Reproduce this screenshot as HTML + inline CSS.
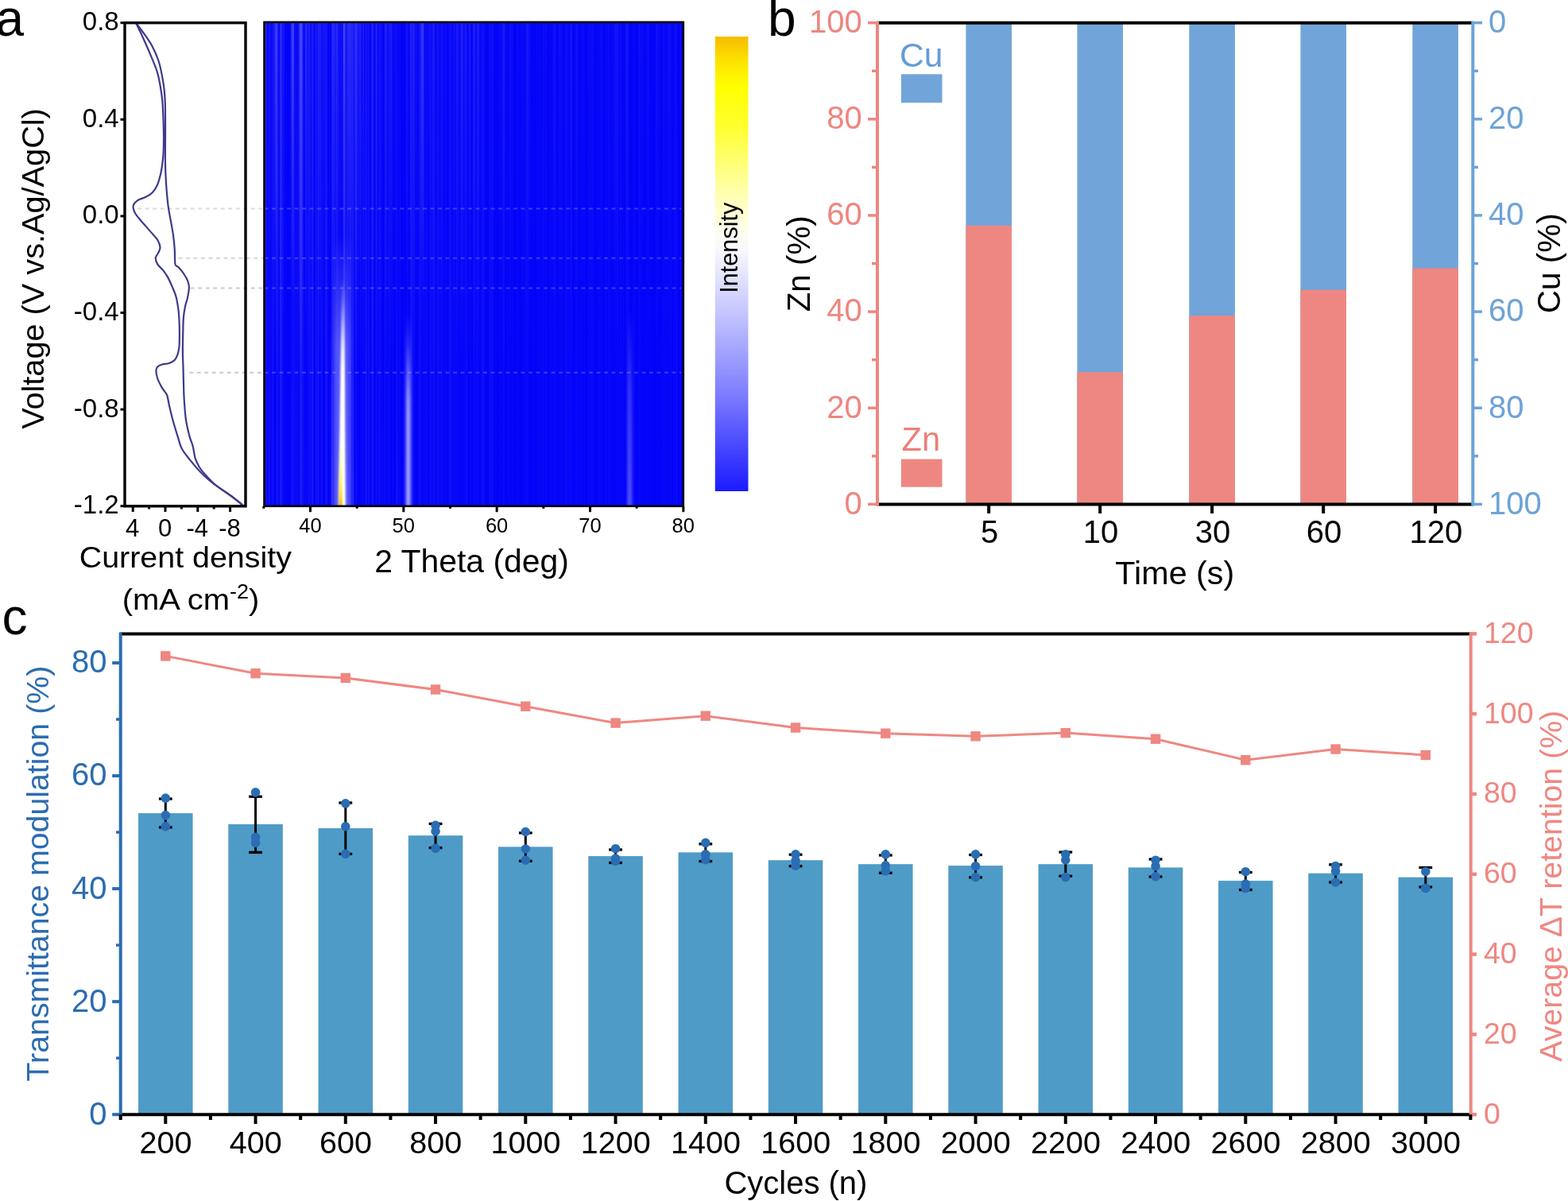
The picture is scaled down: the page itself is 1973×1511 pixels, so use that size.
<!DOCTYPE html>
<html><head><meta charset="utf-8"><title>Figure</title>
<style>html,body{margin:0;padding:0;background:#fff;overflow:hidden}svg{display:block}</style>
</head><body>
<svg width="1973" height="1511" viewBox="0 0 1973 1511" font-family="'Liberation Sans', Arial, Helvetica, sans-serif"><text x="-5.5" y="45.2" font-size="64" fill="#000" text-anchor="start" >a</text>
<line x1="173.20" y1="262.50" x2="332.50" y2="262.50" stroke="#e2d8d4" stroke-width="2" stroke-dasharray="5 4.5"/>
<line x1="224.40" y1="324.80" x2="332.50" y2="324.80" stroke="#d4d5dc" stroke-width="2" stroke-dasharray="5 4.5"/>
<line x1="239.70" y1="362.60" x2="332.50" y2="362.60" stroke="#c5cad3" stroke-width="2" stroke-dasharray="5 4.5"/>
<line x1="238.20" y1="468.70" x2="332.50" y2="468.70" stroke="#c5c9d0" stroke-width="2" stroke-dasharray="5 4.5"/>
<path d="M170.90,28.60 C172.35,31.63 176.28,39.52 179.60,46.80 C182.92,54.08 187.77,65.02 190.80,72.30 C193.83,79.58 195.97,84.43 197.80,90.50 C199.63,96.57 200.72,102.63 201.80,108.70 C202.88,114.77 203.68,120.02 204.30,126.90 C204.92,133.78 205.22,142.48 205.50,150.00 C205.78,157.52 205.98,165.00 206.00,172.00 C206.02,179.00 205.88,186.33 205.60,192.00 C205.32,197.67 204.92,201.33 204.30,206.00 C203.68,210.67 203.02,215.42 201.90,220.00 C200.78,224.58 199.33,229.75 197.60,233.50 C195.87,237.25 193.77,240.17 191.50,242.50 C189.23,244.83 186.50,246.15 184.00,247.50 C181.50,248.85 178.40,249.75 176.50,250.60 C174.60,251.45 173.92,251.60 172.60,252.60 C171.28,253.60 169.43,255.17 168.60,256.60 C167.77,258.03 167.38,259.28 167.60,261.20 C167.82,263.12 168.68,265.83 169.90,268.10 C171.12,270.37 173.22,272.70 174.90,274.80 C176.58,276.90 177.33,277.65 180.00,280.70 C182.67,283.75 187.87,289.58 190.90,293.10 C193.93,296.62 196.43,298.77 198.20,301.80 C199.97,304.83 201.38,308.50 201.50,311.30 C201.62,314.10 199.85,316.42 198.90,318.60 C197.95,320.78 195.92,322.10 195.80,324.40 C195.68,326.70 196.58,329.73 198.20,332.40 C199.82,335.07 203.32,337.62 205.50,340.40 C207.68,343.18 209.48,345.82 211.30,349.10 C213.12,352.38 214.70,356.08 216.40,360.10 C218.10,364.12 220.17,368.35 221.50,373.20 C222.83,378.05 223.72,383.90 224.40,389.20 C225.08,394.50 225.35,399.63 225.60,405.00 C225.85,410.37 225.92,416.25 225.90,421.40 C225.88,426.55 225.87,431.90 225.50,435.90 C225.13,439.90 224.62,442.60 223.70,445.40 C222.78,448.20 221.82,450.77 220.00,452.70 C218.18,454.63 215.47,456.03 212.80,457.00 C210.13,457.97 206.43,457.77 204.00,458.50 C201.57,459.23 199.47,460.07 198.20,461.40 C196.93,462.73 196.40,464.07 196.40,466.50 C196.40,468.93 197.05,472.60 198.20,476.00 C199.35,479.40 201.75,484.07 203.30,486.90 C204.85,489.73 206.32,491.17 207.50,493.00 C208.68,494.83 209.50,495.08 210.40,497.90 C211.30,500.72 211.67,504.60 212.90,509.90 C214.13,515.20 215.98,523.08 217.80,529.70 C219.62,536.32 221.97,543.80 223.80,549.60 C225.63,555.40 226.15,559.53 228.80,564.50 C231.45,569.47 235.73,574.43 239.70,579.40 C243.67,584.37 247.63,589.33 252.60,594.30 C257.57,599.27 263.38,604.40 269.50,609.20 C275.62,614.00 283.35,618.77 289.30,623.10 C295.25,627.43 302.55,633.18 305.20,635.20" fill="none" stroke="#3c3b8a" stroke-width="2.2"/>
<path d="M170.90,28.60 C172.72,31.03 178.40,38.33 181.80,43.20 C185.20,48.07 188.38,52.33 191.30,57.80 C194.22,63.27 197.23,69.95 199.30,76.00 C201.37,82.05 202.48,88.05 203.70,94.10 C204.92,100.15 205.92,106.23 206.60,112.30 C207.28,118.37 207.57,124.22 207.80,130.50 C208.03,136.78 207.97,142.58 208.00,150.00 C208.03,157.42 208.02,166.83 208.00,175.00 C207.98,183.17 207.85,191.95 207.90,199.00 C207.95,206.05 208.00,210.47 208.30,217.30 C208.60,224.13 209.13,232.90 209.70,240.00 C210.27,247.10 210.88,253.83 211.70,259.90 C212.52,265.97 213.58,270.62 214.60,276.40 C215.62,282.18 216.95,288.53 217.80,294.60 C218.65,300.67 219.28,306.65 219.70,312.80 C220.12,318.95 219.92,327.88 220.30,331.50 C220.68,335.12 221.20,333.62 222.00,334.50 C222.80,335.38 223.62,335.22 225.10,336.80 C226.58,338.38 229.08,341.33 230.90,344.00 C232.72,346.67 234.83,349.88 236.00,352.80 C237.17,355.72 237.90,357.87 237.90,361.50 C237.90,365.13 236.80,370.68 236.00,374.60 C235.20,378.52 233.95,380.83 233.10,385.00 C232.25,389.17 231.38,393.53 230.90,399.60 C230.42,405.67 230.37,414.13 230.20,421.40 C230.03,428.67 229.83,435.92 229.90,443.20 C229.97,450.48 230.37,456.60 230.60,465.10 C230.83,473.60 231.03,486.73 231.30,494.20 C231.57,501.67 231.72,503.98 232.20,509.90 C232.68,515.82 233.12,523.08 234.20,529.70 C235.28,536.32 237.28,544.30 238.70,549.60 C240.12,554.90 241.55,557.03 242.70,561.50 C243.85,565.97 244.28,572.10 245.60,576.40 C246.92,580.70 248.77,584.15 250.60,587.30 C252.43,590.45 253.40,591.68 256.60,595.30 C259.80,598.92 264.30,604.40 269.80,609.00 C275.30,613.60 283.70,618.53 289.60,622.90 C295.50,627.27 302.60,633.15 305.20,635.20" fill="none" stroke="#3c3b8a" stroke-width="2.2"/>
<rect x="157" y="28.7" width="152" height="608.0999999999999" fill="none" stroke="#000" stroke-width="3.4"/>
<line x1="151.50" y1="28.70" x2="157.00" y2="28.70" stroke="#000" stroke-width="3" />
<text x="149.7" y="38.2" font-size="33" fill="#000" text-anchor="end" >0.8</text>
<line x1="151.50" y1="150.30" x2="157.00" y2="150.30" stroke="#000" stroke-width="3" />
<text x="149.7" y="159.8" font-size="33" fill="#000" text-anchor="end" >0.4</text>
<line x1="151.50" y1="271.90" x2="157.00" y2="271.90" stroke="#000" stroke-width="3" />
<text x="149.7" y="281.4" font-size="33" fill="#000" text-anchor="end" >0.0</text>
<line x1="151.50" y1="393.50" x2="157.00" y2="393.50" stroke="#000" stroke-width="3" />
<text x="149.7" y="403.0" font-size="33" fill="#000" text-anchor="end" >-0.4</text>
<line x1="151.50" y1="515.10" x2="157.00" y2="515.10" stroke="#000" stroke-width="3" />
<text x="149.7" y="524.6" font-size="33" fill="#000" text-anchor="end" >-0.8</text>
<line x1="151.50" y1="636.70" x2="157.00" y2="636.70" stroke="#000" stroke-width="3" />
<text x="149.7" y="646.2" font-size="33" fill="#000" text-anchor="end" >-1.2</text>
<line x1="167.20" y1="636.80" x2="167.20" y2="644.00" stroke="#000" stroke-width="3" />
<text x="166.7" y="674.7" font-size="31" fill="#000" text-anchor="middle" >4</text>
<line x1="208.00" y1="636.80" x2="208.00" y2="644.00" stroke="#000" stroke-width="3" />
<text x="207.5" y="674.7" font-size="31" fill="#000" text-anchor="middle" >0</text>
<line x1="248.80" y1="636.80" x2="248.80" y2="644.00" stroke="#000" stroke-width="3" />
<text x="248.3" y="674.7" font-size="31" fill="#000" text-anchor="middle" >-4</text>
<line x1="289.60" y1="636.80" x2="289.60" y2="644.00" stroke="#000" stroke-width="3" />
<text x="289.1" y="674.7" font-size="31" fill="#000" text-anchor="middle" >-8</text>
<line x1="187.60" y1="636.80" x2="187.60" y2="640.50" stroke="#000" stroke-width="3" />
<line x1="228.40" y1="636.80" x2="228.40" y2="640.50" stroke="#000" stroke-width="3" />
<line x1="269.20" y1="636.80" x2="269.20" y2="640.50" stroke="#000" stroke-width="3" />
<text transform="translate(55,338) rotate(-90)" font-size="39.7" text-anchor="middle">Voltage (V vs.Ag/AgCl)</text>
<text transform="translate(233.3,713.8) scale(1.065,1)" font-size="37" text-anchor="middle">Current density</text>
<text transform="translate(240,766.7) scale(1.08,1)" font-size="37" text-anchor="middle">(mA cm<tspan dy="-13.5" font-size="25">-2</tspan><tspan dy="13.5">)</tspan></text>
<defs>
<linearGradient id="streakA" x1="0" x2="1" y1="0" y2="0"><stop offset="0.0000" stop-color="#fff" stop-opacity="0.020"/><stop offset="0.0024" stop-color="#fff" stop-opacity="0.031"/><stop offset="0.0048" stop-color="#fff" stop-opacity="0.085"/><stop offset="0.0071" stop-color="#fff" stop-opacity="0.022"/><stop offset="0.0095" stop-color="#fff" stop-opacity="0.026"/><stop offset="0.0119" stop-color="#fff" stop-opacity="0.035"/><stop offset="0.0143" stop-color="#fff" stop-opacity="0.003"/><stop offset="0.0167" stop-color="#fff" stop-opacity="0.026"/><stop offset="0.0190" stop-color="#fff" stop-opacity="0.040"/><stop offset="0.0214" stop-color="#fff" stop-opacity="0.063"/><stop offset="0.0238" stop-color="#fff" stop-opacity="0.001"/><stop offset="0.0262" stop-color="#fff" stop-opacity="0.009"/><stop offset="0.0286" stop-color="#fff" stop-opacity="0.001"/><stop offset="0.0310" stop-color="#fff" stop-opacity="0.066"/><stop offset="0.0333" stop-color="#fff" stop-opacity="0.048"/><stop offset="0.0357" stop-color="#fff" stop-opacity="0.000"/><stop offset="0.0381" stop-color="#fff" stop-opacity="0.096"/><stop offset="0.0405" stop-color="#fff" stop-opacity="0.093"/><stop offset="0.0429" stop-color="#fff" stop-opacity="0.043"/><stop offset="0.0452" stop-color="#fff" stop-opacity="0.038"/><stop offset="0.0476" stop-color="#fff" stop-opacity="0.002"/><stop offset="0.0500" stop-color="#fff" stop-opacity="0.000"/><stop offset="0.0524" stop-color="#fff" stop-opacity="0.028"/><stop offset="0.0548" stop-color="#fff" stop-opacity="0.000"/><stop offset="0.0571" stop-color="#fff" stop-opacity="0.004"/><stop offset="0.0595" stop-color="#fff" stop-opacity="0.006"/><stop offset="0.0619" stop-color="#fff" stop-opacity="0.000"/><stop offset="0.0643" stop-color="#fff" stop-opacity="0.022"/><stop offset="0.0667" stop-color="#fff" stop-opacity="0.019"/><stop offset="0.0690" stop-color="#fff" stop-opacity="0.071"/><stop offset="0.0714" stop-color="#fff" stop-opacity="0.027"/><stop offset="0.0738" stop-color="#fff" stop-opacity="0.041"/><stop offset="0.0762" stop-color="#fff" stop-opacity="0.025"/><stop offset="0.0786" stop-color="#fff" stop-opacity="0.044"/><stop offset="0.0810" stop-color="#fff" stop-opacity="0.021"/><stop offset="0.0833" stop-color="#fff" stop-opacity="0.008"/><stop offset="0.0857" stop-color="#fff" stop-opacity="0.100"/><stop offset="0.0881" stop-color="#fff" stop-opacity="0.099"/><stop offset="0.0905" stop-color="#fff" stop-opacity="0.071"/><stop offset="0.0929" stop-color="#fff" stop-opacity="0.050"/><stop offset="0.0952" stop-color="#fff" stop-opacity="0.010"/><stop offset="0.0976" stop-color="#fff" stop-opacity="0.005"/><stop offset="0.1000" stop-color="#fff" stop-opacity="0.008"/><stop offset="0.1024" stop-color="#fff" stop-opacity="0.000"/><stop offset="0.1048" stop-color="#fff" stop-opacity="0.059"/><stop offset="0.1071" stop-color="#fff" stop-opacity="0.016"/><stop offset="0.1095" stop-color="#fff" stop-opacity="0.072"/><stop offset="0.1119" stop-color="#fff" stop-opacity="0.015"/><stop offset="0.1143" stop-color="#fff" stop-opacity="0.092"/><stop offset="0.1167" stop-color="#fff" stop-opacity="0.072"/><stop offset="0.1190" stop-color="#fff" stop-opacity="0.000"/><stop offset="0.1214" stop-color="#fff" stop-opacity="0.004"/><stop offset="0.1238" stop-color="#fff" stop-opacity="0.083"/><stop offset="0.1262" stop-color="#fff" stop-opacity="0.022"/><stop offset="0.1286" stop-color="#fff" stop-opacity="0.096"/><stop offset="0.1310" stop-color="#fff" stop-opacity="0.016"/><stop offset="0.1333" stop-color="#fff" stop-opacity="0.001"/><stop offset="0.1357" stop-color="#fff" stop-opacity="0.040"/><stop offset="0.1381" stop-color="#fff" stop-opacity="0.061"/><stop offset="0.1405" stop-color="#fff" stop-opacity="0.007"/><stop offset="0.1429" stop-color="#fff" stop-opacity="0.001"/><stop offset="0.1452" stop-color="#fff" stop-opacity="0.011"/><stop offset="0.1476" stop-color="#fff" stop-opacity="0.093"/><stop offset="0.1500" stop-color="#fff" stop-opacity="0.057"/><stop offset="0.1524" stop-color="#fff" stop-opacity="0.001"/><stop offset="0.1548" stop-color="#fff" stop-opacity="0.006"/><stop offset="0.1571" stop-color="#fff" stop-opacity="0.001"/><stop offset="0.1595" stop-color="#fff" stop-opacity="0.000"/><stop offset="0.1619" stop-color="#fff" stop-opacity="0.064"/><stop offset="0.1643" stop-color="#fff" stop-opacity="0.003"/><stop offset="0.1667" stop-color="#fff" stop-opacity="0.031"/><stop offset="0.1690" stop-color="#fff" stop-opacity="0.020"/><stop offset="0.1714" stop-color="#fff" stop-opacity="0.004"/><stop offset="0.1738" stop-color="#fff" stop-opacity="0.054"/><stop offset="0.1762" stop-color="#fff" stop-opacity="0.002"/><stop offset="0.1786" stop-color="#fff" stop-opacity="0.041"/><stop offset="0.1810" stop-color="#fff" stop-opacity="0.001"/><stop offset="0.1833" stop-color="#fff" stop-opacity="0.018"/><stop offset="0.1857" stop-color="#fff" stop-opacity="0.005"/><stop offset="0.1881" stop-color="#fff" stop-opacity="0.007"/><stop offset="0.1905" stop-color="#fff" stop-opacity="0.094"/><stop offset="0.1929" stop-color="#fff" stop-opacity="0.065"/><stop offset="0.1952" stop-color="#fff" stop-opacity="0.009"/><stop offset="0.1976" stop-color="#fff" stop-opacity="0.078"/><stop offset="0.2000" stop-color="#fff" stop-opacity="0.004"/><stop offset="0.2024" stop-color="#fff" stop-opacity="0.016"/><stop offset="0.2048" stop-color="#fff" stop-opacity="0.073"/><stop offset="0.2071" stop-color="#fff" stop-opacity="0.041"/><stop offset="0.2095" stop-color="#fff" stop-opacity="0.001"/><stop offset="0.2119" stop-color="#fff" stop-opacity="0.098"/><stop offset="0.2143" stop-color="#fff" stop-opacity="0.005"/><stop offset="0.2167" stop-color="#fff" stop-opacity="0.007"/><stop offset="0.2190" stop-color="#fff" stop-opacity="0.060"/><stop offset="0.2214" stop-color="#fff" stop-opacity="0.011"/><stop offset="0.2238" stop-color="#fff" stop-opacity="0.009"/><stop offset="0.2262" stop-color="#fff" stop-opacity="0.001"/><stop offset="0.2286" stop-color="#fff" stop-opacity="0.001"/><stop offset="0.2310" stop-color="#fff" stop-opacity="0.034"/><stop offset="0.2333" stop-color="#fff" stop-opacity="0.006"/><stop offset="0.2357" stop-color="#fff" stop-opacity="0.036"/><stop offset="0.2381" stop-color="#fff" stop-opacity="0.014"/><stop offset="0.2405" stop-color="#fff" stop-opacity="0.021"/><stop offset="0.2429" stop-color="#fff" stop-opacity="0.092"/><stop offset="0.2452" stop-color="#fff" stop-opacity="0.023"/><stop offset="0.2476" stop-color="#fff" stop-opacity="0.033"/><stop offset="0.2500" stop-color="#fff" stop-opacity="0.075"/><stop offset="0.2524" stop-color="#fff" stop-opacity="0.003"/><stop offset="0.2548" stop-color="#fff" stop-opacity="0.002"/><stop offset="0.2571" stop-color="#fff" stop-opacity="0.083"/><stop offset="0.2595" stop-color="#fff" stop-opacity="0.067"/><stop offset="0.2619" stop-color="#fff" stop-opacity="0.006"/><stop offset="0.2643" stop-color="#fff" stop-opacity="0.004"/><stop offset="0.2667" stop-color="#fff" stop-opacity="0.033"/><stop offset="0.2690" stop-color="#fff" stop-opacity="0.053"/><stop offset="0.2714" stop-color="#fff" stop-opacity="0.002"/><stop offset="0.2738" stop-color="#fff" stop-opacity="0.054"/><stop offset="0.2762" stop-color="#fff" stop-opacity="0.047"/><stop offset="0.2786" stop-color="#fff" stop-opacity="0.022"/><stop offset="0.2810" stop-color="#fff" stop-opacity="0.011"/><stop offset="0.2833" stop-color="#fff" stop-opacity="0.001"/><stop offset="0.2857" stop-color="#fff" stop-opacity="0.000"/><stop offset="0.2881" stop-color="#fff" stop-opacity="0.056"/><stop offset="0.2905" stop-color="#fff" stop-opacity="0.003"/><stop offset="0.2929" stop-color="#fff" stop-opacity="0.030"/><stop offset="0.2952" stop-color="#fff" stop-opacity="0.004"/><stop offset="0.2976" stop-color="#fff" stop-opacity="0.041"/><stop offset="0.3000" stop-color="#fff" stop-opacity="0.021"/><stop offset="0.3024" stop-color="#fff" stop-opacity="0.005"/><stop offset="0.3048" stop-color="#fff" stop-opacity="0.002"/><stop offset="0.3071" stop-color="#fff" stop-opacity="0.031"/><stop offset="0.3095" stop-color="#fff" stop-opacity="0.000"/><stop offset="0.3119" stop-color="#fff" stop-opacity="0.003"/><stop offset="0.3143" stop-color="#fff" stop-opacity="0.019"/><stop offset="0.3167" stop-color="#fff" stop-opacity="0.044"/><stop offset="0.3190" stop-color="#fff" stop-opacity="0.023"/><stop offset="0.3214" stop-color="#fff" stop-opacity="0.005"/><stop offset="0.3238" stop-color="#fff" stop-opacity="0.050"/><stop offset="0.3262" stop-color="#fff" stop-opacity="0.002"/><stop offset="0.3286" stop-color="#fff" stop-opacity="0.000"/><stop offset="0.3310" stop-color="#fff" stop-opacity="0.004"/><stop offset="0.3333" stop-color="#fff" stop-opacity="0.012"/><stop offset="0.3357" stop-color="#fff" stop-opacity="0.000"/><stop offset="0.3381" stop-color="#fff" stop-opacity="0.002"/><stop offset="0.3405" stop-color="#fff" stop-opacity="0.008"/><stop offset="0.3429" stop-color="#fff" stop-opacity="0.020"/><stop offset="0.3452" stop-color="#fff" stop-opacity="0.001"/><stop offset="0.3476" stop-color="#fff" stop-opacity="0.008"/><stop offset="0.3500" stop-color="#fff" stop-opacity="0.048"/><stop offset="0.3524" stop-color="#fff" stop-opacity="0.058"/><stop offset="0.3548" stop-color="#fff" stop-opacity="0.026"/><stop offset="0.3571" stop-color="#fff" stop-opacity="0.029"/><stop offset="0.3595" stop-color="#fff" stop-opacity="0.020"/><stop offset="0.3619" stop-color="#fff" stop-opacity="0.001"/><stop offset="0.3643" stop-color="#fff" stop-opacity="0.000"/><stop offset="0.3667" stop-color="#fff" stop-opacity="0.000"/><stop offset="0.3690" stop-color="#fff" stop-opacity="0.050"/><stop offset="0.3714" stop-color="#fff" stop-opacity="0.029"/><stop offset="0.3738" stop-color="#fff" stop-opacity="0.056"/><stop offset="0.3762" stop-color="#fff" stop-opacity="0.000"/><stop offset="0.3786" stop-color="#fff" stop-opacity="0.024"/><stop offset="0.3810" stop-color="#fff" stop-opacity="0.014"/><stop offset="0.3833" stop-color="#fff" stop-opacity="0.032"/><stop offset="0.3857" stop-color="#fff" stop-opacity="0.006"/><stop offset="0.3881" stop-color="#fff" stop-opacity="0.060"/><stop offset="0.3905" stop-color="#fff" stop-opacity="0.000"/><stop offset="0.3929" stop-color="#fff" stop-opacity="0.018"/><stop offset="0.3952" stop-color="#fff" stop-opacity="0.033"/><stop offset="0.3976" stop-color="#fff" stop-opacity="0.049"/><stop offset="0.4000" stop-color="#fff" stop-opacity="0.033"/><stop offset="0.4024" stop-color="#fff" stop-opacity="0.030"/><stop offset="0.4048" stop-color="#fff" stop-opacity="0.038"/><stop offset="0.4071" stop-color="#fff" stop-opacity="0.050"/><stop offset="0.4095" stop-color="#fff" stop-opacity="0.007"/><stop offset="0.4119" stop-color="#fff" stop-opacity="0.028"/><stop offset="0.4143" stop-color="#fff" stop-opacity="0.049"/><stop offset="0.4167" stop-color="#fff" stop-opacity="0.046"/><stop offset="0.4190" stop-color="#fff" stop-opacity="0.010"/><stop offset="0.4214" stop-color="#fff" stop-opacity="0.037"/><stop offset="0.4238" stop-color="#fff" stop-opacity="0.045"/><stop offset="0.4262" stop-color="#fff" stop-opacity="0.020"/><stop offset="0.4286" stop-color="#fff" stop-opacity="0.023"/><stop offset="0.4310" stop-color="#fff" stop-opacity="0.009"/><stop offset="0.4333" stop-color="#fff" stop-opacity="0.020"/><stop offset="0.4357" stop-color="#fff" stop-opacity="0.022"/><stop offset="0.4381" stop-color="#fff" stop-opacity="0.000"/><stop offset="0.4405" stop-color="#fff" stop-opacity="0.025"/><stop offset="0.4429" stop-color="#fff" stop-opacity="0.059"/><stop offset="0.4452" stop-color="#fff" stop-opacity="0.046"/><stop offset="0.4476" stop-color="#fff" stop-opacity="0.032"/><stop offset="0.4500" stop-color="#fff" stop-opacity="0.009"/><stop offset="0.4524" stop-color="#fff" stop-opacity="0.032"/><stop offset="0.4548" stop-color="#fff" stop-opacity="0.020"/><stop offset="0.4571" stop-color="#fff" stop-opacity="0.012"/><stop offset="0.4595" stop-color="#fff" stop-opacity="0.042"/><stop offset="0.4619" stop-color="#fff" stop-opacity="0.000"/><stop offset="0.4643" stop-color="#fff" stop-opacity="0.034"/><stop offset="0.4667" stop-color="#fff" stop-opacity="0.000"/><stop offset="0.4690" stop-color="#fff" stop-opacity="0.022"/><stop offset="0.4714" stop-color="#fff" stop-opacity="0.014"/><stop offset="0.4738" stop-color="#fff" stop-opacity="0.003"/><stop offset="0.4762" stop-color="#fff" stop-opacity="0.029"/><stop offset="0.4786" stop-color="#fff" stop-opacity="0.015"/><stop offset="0.4810" stop-color="#fff" stop-opacity="0.023"/><stop offset="0.4833" stop-color="#fff" stop-opacity="0.051"/><stop offset="0.4857" stop-color="#fff" stop-opacity="0.004"/><stop offset="0.4881" stop-color="#fff" stop-opacity="0.000"/><stop offset="0.4905" stop-color="#fff" stop-opacity="0.005"/><stop offset="0.4929" stop-color="#fff" stop-opacity="0.028"/><stop offset="0.4952" stop-color="#fff" stop-opacity="0.002"/><stop offset="0.4976" stop-color="#fff" stop-opacity="0.002"/><stop offset="0.5000" stop-color="#fff" stop-opacity="0.049"/><stop offset="0.5024" stop-color="#fff" stop-opacity="0.026"/><stop offset="0.5048" stop-color="#fff" stop-opacity="0.012"/><stop offset="0.5071" stop-color="#fff" stop-opacity="0.048"/><stop offset="0.5095" stop-color="#fff" stop-opacity="0.006"/><stop offset="0.5119" stop-color="#fff" stop-opacity="0.027"/><stop offset="0.5143" stop-color="#fff" stop-opacity="0.002"/><stop offset="0.5167" stop-color="#fff" stop-opacity="0.011"/><stop offset="0.5190" stop-color="#fff" stop-opacity="0.039"/><stop offset="0.5214" stop-color="#fff" stop-opacity="0.050"/><stop offset="0.5238" stop-color="#fff" stop-opacity="0.046"/><stop offset="0.5262" stop-color="#fff" stop-opacity="0.009"/><stop offset="0.5286" stop-color="#fff" stop-opacity="0.020"/><stop offset="0.5310" stop-color="#fff" stop-opacity="0.006"/><stop offset="0.5333" stop-color="#fff" stop-opacity="0.001"/><stop offset="0.5357" stop-color="#fff" stop-opacity="0.015"/><stop offset="0.5381" stop-color="#fff" stop-opacity="0.042"/><stop offset="0.5405" stop-color="#fff" stop-opacity="0.043"/><stop offset="0.5429" stop-color="#fff" stop-opacity="0.030"/><stop offset="0.5452" stop-color="#fff" stop-opacity="0.054"/><stop offset="0.5476" stop-color="#fff" stop-opacity="0.005"/><stop offset="0.5500" stop-color="#fff" stop-opacity="0.002"/><stop offset="0.5524" stop-color="#fff" stop-opacity="0.012"/><stop offset="0.5548" stop-color="#fff" stop-opacity="0.005"/><stop offset="0.5571" stop-color="#fff" stop-opacity="0.002"/><stop offset="0.5595" stop-color="#fff" stop-opacity="0.006"/><stop offset="0.5619" stop-color="#fff" stop-opacity="0.014"/><stop offset="0.5643" stop-color="#fff" stop-opacity="0.009"/><stop offset="0.5667" stop-color="#fff" stop-opacity="0.004"/><stop offset="0.5690" stop-color="#fff" stop-opacity="0.025"/><stop offset="0.5714" stop-color="#fff" stop-opacity="0.035"/><stop offset="0.5738" stop-color="#fff" stop-opacity="0.007"/><stop offset="0.5762" stop-color="#fff" stop-opacity="0.000"/><stop offset="0.5786" stop-color="#fff" stop-opacity="0.000"/><stop offset="0.5810" stop-color="#fff" stop-opacity="0.027"/><stop offset="0.5833" stop-color="#fff" stop-opacity="0.000"/><stop offset="0.5857" stop-color="#fff" stop-opacity="0.018"/><stop offset="0.5881" stop-color="#fff" stop-opacity="0.012"/><stop offset="0.5905" stop-color="#fff" stop-opacity="0.003"/><stop offset="0.5929" stop-color="#fff" stop-opacity="0.023"/><stop offset="0.5952" stop-color="#fff" stop-opacity="0.000"/><stop offset="0.5976" stop-color="#fff" stop-opacity="0.001"/><stop offset="0.6000" stop-color="#fff" stop-opacity="0.007"/><stop offset="0.6024" stop-color="#fff" stop-opacity="0.000"/><stop offset="0.6048" stop-color="#fff" stop-opacity="0.025"/><stop offset="0.6071" stop-color="#fff" stop-opacity="0.002"/><stop offset="0.6095" stop-color="#fff" stop-opacity="0.001"/><stop offset="0.6119" stop-color="#fff" stop-opacity="0.000"/><stop offset="0.6143" stop-color="#fff" stop-opacity="0.014"/><stop offset="0.6167" stop-color="#fff" stop-opacity="0.007"/><stop offset="0.6190" stop-color="#fff" stop-opacity="0.014"/><stop offset="0.6214" stop-color="#fff" stop-opacity="0.015"/><stop offset="0.6238" stop-color="#fff" stop-opacity="0.023"/><stop offset="0.6262" stop-color="#fff" stop-opacity="0.033"/><stop offset="0.6286" stop-color="#fff" stop-opacity="0.017"/><stop offset="0.6310" stop-color="#fff" stop-opacity="0.001"/><stop offset="0.6333" stop-color="#fff" stop-opacity="0.008"/><stop offset="0.6357" stop-color="#fff" stop-opacity="0.001"/><stop offset="0.6381" stop-color="#fff" stop-opacity="0.000"/><stop offset="0.6405" stop-color="#fff" stop-opacity="0.008"/><stop offset="0.6429" stop-color="#fff" stop-opacity="0.018"/><stop offset="0.6452" stop-color="#fff" stop-opacity="0.001"/><stop offset="0.6476" stop-color="#fff" stop-opacity="0.003"/><stop offset="0.6500" stop-color="#fff" stop-opacity="0.004"/><stop offset="0.6524" stop-color="#fff" stop-opacity="0.018"/><stop offset="0.6548" stop-color="#fff" stop-opacity="0.010"/><stop offset="0.6571" stop-color="#fff" stop-opacity="0.014"/><stop offset="0.6595" stop-color="#fff" stop-opacity="0.021"/><stop offset="0.6619" stop-color="#fff" stop-opacity="0.006"/><stop offset="0.6643" stop-color="#fff" stop-opacity="0.023"/><stop offset="0.6667" stop-color="#fff" stop-opacity="0.030"/><stop offset="0.6690" stop-color="#fff" stop-opacity="0.000"/><stop offset="0.6714" stop-color="#fff" stop-opacity="0.031"/><stop offset="0.6738" stop-color="#fff" stop-opacity="0.019"/><stop offset="0.6762" stop-color="#fff" stop-opacity="0.001"/><stop offset="0.6786" stop-color="#fff" stop-opacity="0.007"/><stop offset="0.6810" stop-color="#fff" stop-opacity="0.014"/><stop offset="0.6833" stop-color="#fff" stop-opacity="0.030"/><stop offset="0.6857" stop-color="#fff" stop-opacity="0.005"/><stop offset="0.6881" stop-color="#fff" stop-opacity="0.012"/><stop offset="0.6905" stop-color="#fff" stop-opacity="0.028"/><stop offset="0.6929" stop-color="#fff" stop-opacity="0.023"/><stop offset="0.6952" stop-color="#fff" stop-opacity="0.032"/><stop offset="0.6976" stop-color="#fff" stop-opacity="0.008"/><stop offset="0.7000" stop-color="#fff" stop-opacity="0.015"/><stop offset="0.7024" stop-color="#fff" stop-opacity="0.002"/><stop offset="0.7048" stop-color="#fff" stop-opacity="0.019"/><stop offset="0.7071" stop-color="#fff" stop-opacity="0.024"/><stop offset="0.7095" stop-color="#fff" stop-opacity="0.015"/><stop offset="0.7119" stop-color="#fff" stop-opacity="0.019"/><stop offset="0.7143" stop-color="#fff" stop-opacity="0.002"/><stop offset="0.7167" stop-color="#fff" stop-opacity="0.029"/><stop offset="0.7190" stop-color="#fff" stop-opacity="0.035"/><stop offset="0.7214" stop-color="#fff" stop-opacity="0.034"/><stop offset="0.7238" stop-color="#fff" stop-opacity="0.010"/><stop offset="0.7262" stop-color="#fff" stop-opacity="0.023"/><stop offset="0.7286" stop-color="#fff" stop-opacity="0.004"/><stop offset="0.7310" stop-color="#fff" stop-opacity="0.030"/><stop offset="0.7333" stop-color="#fff" stop-opacity="0.026"/><stop offset="0.7357" stop-color="#fff" stop-opacity="0.004"/><stop offset="0.7381" stop-color="#fff" stop-opacity="0.000"/><stop offset="0.7405" stop-color="#fff" stop-opacity="0.007"/><stop offset="0.7429" stop-color="#fff" stop-opacity="0.011"/><stop offset="0.7452" stop-color="#fff" stop-opacity="0.021"/><stop offset="0.7476" stop-color="#fff" stop-opacity="0.009"/><stop offset="0.7500" stop-color="#fff" stop-opacity="0.000"/><stop offset="0.7524" stop-color="#fff" stop-opacity="0.024"/><stop offset="0.7548" stop-color="#fff" stop-opacity="0.000"/><stop offset="0.7571" stop-color="#fff" stop-opacity="0.023"/><stop offset="0.7595" stop-color="#fff" stop-opacity="0.001"/><stop offset="0.7619" stop-color="#fff" stop-opacity="0.004"/><stop offset="0.7643" stop-color="#fff" stop-opacity="0.022"/><stop offset="0.7667" stop-color="#fff" stop-opacity="0.001"/><stop offset="0.7690" stop-color="#fff" stop-opacity="0.001"/><stop offset="0.7714" stop-color="#fff" stop-opacity="0.010"/><stop offset="0.7738" stop-color="#fff" stop-opacity="0.019"/><stop offset="0.7762" stop-color="#fff" stop-opacity="0.025"/><stop offset="0.7786" stop-color="#fff" stop-opacity="0.017"/><stop offset="0.7810" stop-color="#fff" stop-opacity="0.032"/><stop offset="0.7833" stop-color="#fff" stop-opacity="0.009"/><stop offset="0.7857" stop-color="#fff" stop-opacity="0.032"/><stop offset="0.7881" stop-color="#fff" stop-opacity="0.000"/><stop offset="0.7905" stop-color="#fff" stop-opacity="0.002"/><stop offset="0.7929" stop-color="#fff" stop-opacity="0.010"/><stop offset="0.7952" stop-color="#fff" stop-opacity="0.003"/><stop offset="0.7976" stop-color="#fff" stop-opacity="0.019"/><stop offset="0.8000" stop-color="#fff" stop-opacity="0.015"/><stop offset="0.8024" stop-color="#fff" stop-opacity="0.010"/><stop offset="0.8048" stop-color="#fff" stop-opacity="0.026"/><stop offset="0.8071" stop-color="#fff" stop-opacity="0.011"/><stop offset="0.8095" stop-color="#fff" stop-opacity="0.003"/><stop offset="0.8119" stop-color="#fff" stop-opacity="0.005"/><stop offset="0.8143" stop-color="#fff" stop-opacity="0.026"/><stop offset="0.8167" stop-color="#fff" stop-opacity="0.029"/><stop offset="0.8190" stop-color="#fff" stop-opacity="0.002"/><stop offset="0.8214" stop-color="#fff" stop-opacity="0.026"/><stop offset="0.8238" stop-color="#fff" stop-opacity="0.034"/><stop offset="0.8262" stop-color="#fff" stop-opacity="0.010"/><stop offset="0.8286" stop-color="#fff" stop-opacity="0.012"/><stop offset="0.8310" stop-color="#fff" stop-opacity="0.001"/><stop offset="0.8333" stop-color="#fff" stop-opacity="0.010"/><stop offset="0.8357" stop-color="#fff" stop-opacity="0.009"/><stop offset="0.8381" stop-color="#fff" stop-opacity="0.013"/><stop offset="0.8405" stop-color="#fff" stop-opacity="0.000"/><stop offset="0.8429" stop-color="#fff" stop-opacity="0.034"/><stop offset="0.8452" stop-color="#fff" stop-opacity="0.010"/><stop offset="0.8476" stop-color="#fff" stop-opacity="0.006"/><stop offset="0.8500" stop-color="#fff" stop-opacity="0.023"/><stop offset="0.8524" stop-color="#fff" stop-opacity="0.011"/><stop offset="0.8548" stop-color="#fff" stop-opacity="0.009"/><stop offset="0.8571" stop-color="#fff" stop-opacity="0.017"/><stop offset="0.8595" stop-color="#fff" stop-opacity="0.000"/><stop offset="0.8619" stop-color="#fff" stop-opacity="0.010"/><stop offset="0.8643" stop-color="#fff" stop-opacity="0.006"/><stop offset="0.8667" stop-color="#fff" stop-opacity="0.033"/><stop offset="0.8690" stop-color="#fff" stop-opacity="0.031"/><stop offset="0.8714" stop-color="#fff" stop-opacity="0.003"/><stop offset="0.8738" stop-color="#fff" stop-opacity="0.008"/><stop offset="0.8762" stop-color="#fff" stop-opacity="0.001"/><stop offset="0.8786" stop-color="#fff" stop-opacity="0.007"/><stop offset="0.8810" stop-color="#fff" stop-opacity="0.024"/><stop offset="0.8833" stop-color="#fff" stop-opacity="0.029"/><stop offset="0.8857" stop-color="#fff" stop-opacity="0.008"/><stop offset="0.8881" stop-color="#fff" stop-opacity="0.004"/><stop offset="0.8905" stop-color="#fff" stop-opacity="0.001"/><stop offset="0.8929" stop-color="#fff" stop-opacity="0.014"/><stop offset="0.8952" stop-color="#fff" stop-opacity="0.031"/><stop offset="0.8976" stop-color="#fff" stop-opacity="0.001"/><stop offset="0.9000" stop-color="#fff" stop-opacity="0.022"/><stop offset="0.9024" stop-color="#fff" stop-opacity="0.000"/><stop offset="0.9048" stop-color="#fff" stop-opacity="0.001"/><stop offset="0.9071" stop-color="#fff" stop-opacity="0.002"/><stop offset="0.9095" stop-color="#fff" stop-opacity="0.017"/><stop offset="0.9119" stop-color="#fff" stop-opacity="0.004"/><stop offset="0.9143" stop-color="#fff" stop-opacity="0.005"/><stop offset="0.9167" stop-color="#fff" stop-opacity="0.014"/><stop offset="0.9190" stop-color="#fff" stop-opacity="0.000"/><stop offset="0.9214" stop-color="#fff" stop-opacity="0.019"/><stop offset="0.9238" stop-color="#fff" stop-opacity="0.001"/><stop offset="0.9262" stop-color="#fff" stop-opacity="0.009"/><stop offset="0.9286" stop-color="#fff" stop-opacity="0.002"/><stop offset="0.9310" stop-color="#fff" stop-opacity="0.001"/><stop offset="0.9333" stop-color="#fff" stop-opacity="0.010"/><stop offset="0.9357" stop-color="#fff" stop-opacity="0.007"/><stop offset="0.9381" stop-color="#fff" stop-opacity="0.005"/><stop offset="0.9405" stop-color="#fff" stop-opacity="0.006"/><stop offset="0.9429" stop-color="#fff" stop-opacity="0.010"/><stop offset="0.9452" stop-color="#fff" stop-opacity="0.001"/><stop offset="0.9476" stop-color="#fff" stop-opacity="0.002"/><stop offset="0.9500" stop-color="#fff" stop-opacity="0.014"/><stop offset="0.9524" stop-color="#fff" stop-opacity="0.015"/><stop offset="0.9548" stop-color="#fff" stop-opacity="0.010"/><stop offset="0.9571" stop-color="#fff" stop-opacity="0.026"/><stop offset="0.9595" stop-color="#fff" stop-opacity="0.013"/><stop offset="0.9619" stop-color="#fff" stop-opacity="0.026"/><stop offset="0.9643" stop-color="#fff" stop-opacity="0.002"/><stop offset="0.9667" stop-color="#fff" stop-opacity="0.020"/><stop offset="0.9690" stop-color="#fff" stop-opacity="0.024"/><stop offset="0.9714" stop-color="#fff" stop-opacity="0.029"/><stop offset="0.9738" stop-color="#fff" stop-opacity="0.004"/><stop offset="0.9762" stop-color="#fff" stop-opacity="0.004"/><stop offset="0.9786" stop-color="#fff" stop-opacity="0.031"/><stop offset="0.9810" stop-color="#fff" stop-opacity="0.002"/><stop offset="0.9833" stop-color="#fff" stop-opacity="0.036"/><stop offset="0.9857" stop-color="#fff" stop-opacity="0.028"/><stop offset="0.9881" stop-color="#fff" stop-opacity="0.001"/><stop offset="0.9905" stop-color="#fff" stop-opacity="0.002"/><stop offset="0.9929" stop-color="#fff" stop-opacity="0.019"/><stop offset="0.9952" stop-color="#fff" stop-opacity="0.002"/><stop offset="0.9976" stop-color="#fff" stop-opacity="0.000"/><stop offset="1.0000" stop-color="#fff" stop-opacity="0.025"/></linearGradient>
<linearGradient id="streakB" x1="0" x2="1" y1="0" y2="0"><stop offset="0.0000" stop-color="#fff" stop-opacity="0.017"/><stop offset="0.0033" stop-color="#fff" stop-opacity="0.111"/><stop offset="0.0067" stop-color="#fff" stop-opacity="0.000"/><stop offset="0.0100" stop-color="#fff" stop-opacity="0.015"/><stop offset="0.0133" stop-color="#fff" stop-opacity="0.072"/><stop offset="0.0167" stop-color="#fff" stop-opacity="0.000"/><stop offset="0.0200" stop-color="#fff" stop-opacity="0.002"/><stop offset="0.0233" stop-color="#fff" stop-opacity="0.071"/><stop offset="0.0267" stop-color="#fff" stop-opacity="0.170"/><stop offset="0.0300" stop-color="#fff" stop-opacity="0.204"/><stop offset="0.0333" stop-color="#fff" stop-opacity="0.000"/><stop offset="0.0367" stop-color="#fff" stop-opacity="0.029"/><stop offset="0.0400" stop-color="#fff" stop-opacity="0.098"/><stop offset="0.0433" stop-color="#fff" stop-opacity="0.029"/><stop offset="0.0467" stop-color="#fff" stop-opacity="0.073"/><stop offset="0.0500" stop-color="#fff" stop-opacity="0.002"/><stop offset="0.0533" stop-color="#fff" stop-opacity="0.000"/><stop offset="0.0567" stop-color="#fff" stop-opacity="0.000"/><stop offset="0.0600" stop-color="#fff" stop-opacity="0.000"/><stop offset="0.0633" stop-color="#fff" stop-opacity="0.038"/><stop offset="0.0667" stop-color="#fff" stop-opacity="0.031"/><stop offset="0.0700" stop-color="#fff" stop-opacity="0.041"/><stop offset="0.0733" stop-color="#fff" stop-opacity="0.001"/><stop offset="0.0767" stop-color="#fff" stop-opacity="0.001"/><stop offset="0.0800" stop-color="#fff" stop-opacity="0.002"/><stop offset="0.0833" stop-color="#fff" stop-opacity="0.133"/><stop offset="0.0867" stop-color="#fff" stop-opacity="0.219"/><stop offset="0.0900" stop-color="#fff" stop-opacity="0.179"/><stop offset="0.0933" stop-color="#fff" stop-opacity="0.000"/><stop offset="0.0967" stop-color="#fff" stop-opacity="0.000"/><stop offset="0.1000" stop-color="#fff" stop-opacity="0.194"/><stop offset="0.1033" stop-color="#fff" stop-opacity="0.022"/><stop offset="0.1067" stop-color="#fff" stop-opacity="0.101"/><stop offset="0.1100" stop-color="#fff" stop-opacity="0.008"/><stop offset="0.1133" stop-color="#fff" stop-opacity="0.023"/><stop offset="0.1167" stop-color="#fff" stop-opacity="0.031"/><stop offset="0.1200" stop-color="#fff" stop-opacity="0.018"/><stop offset="0.1233" stop-color="#fff" stop-opacity="0.049"/><stop offset="0.1267" stop-color="#fff" stop-opacity="0.000"/><stop offset="0.1300" stop-color="#fff" stop-opacity="0.078"/><stop offset="0.1333" stop-color="#fff" stop-opacity="0.135"/><stop offset="0.1367" stop-color="#fff" stop-opacity="0.001"/><stop offset="0.1400" stop-color="#fff" stop-opacity="0.021"/><stop offset="0.1433" stop-color="#fff" stop-opacity="0.091"/><stop offset="0.1467" stop-color="#fff" stop-opacity="0.015"/><stop offset="0.1500" stop-color="#fff" stop-opacity="0.002"/><stop offset="0.1533" stop-color="#fff" stop-opacity="0.001"/><stop offset="0.1567" stop-color="#fff" stop-opacity="0.030"/><stop offset="0.1600" stop-color="#fff" stop-opacity="0.000"/><stop offset="0.1633" stop-color="#fff" stop-opacity="0.160"/><stop offset="0.1667" stop-color="#fff" stop-opacity="0.116"/><stop offset="0.1700" stop-color="#fff" stop-opacity="0.079"/><stop offset="0.1733" stop-color="#fff" stop-opacity="0.143"/><stop offset="0.1767" stop-color="#fff" stop-opacity="0.056"/><stop offset="0.1800" stop-color="#fff" stop-opacity="0.015"/><stop offset="0.1833" stop-color="#fff" stop-opacity="0.049"/><stop offset="0.1867" stop-color="#fff" stop-opacity="0.029"/><stop offset="0.1900" stop-color="#fff" stop-opacity="0.214"/><stop offset="0.1933" stop-color="#fff" stop-opacity="0.117"/><stop offset="0.1967" stop-color="#fff" stop-opacity="0.004"/><stop offset="0.2000" stop-color="#fff" stop-opacity="0.170"/><stop offset="0.2033" stop-color="#fff" stop-opacity="0.093"/><stop offset="0.2067" stop-color="#fff" stop-opacity="0.106"/><stop offset="0.2100" stop-color="#fff" stop-opacity="0.122"/><stop offset="0.2133" stop-color="#fff" stop-opacity="0.015"/><stop offset="0.2167" stop-color="#fff" stop-opacity="0.162"/><stop offset="0.2200" stop-color="#fff" stop-opacity="0.153"/><stop offset="0.2233" stop-color="#fff" stop-opacity="0.075"/><stop offset="0.2267" stop-color="#fff" stop-opacity="0.102"/><stop offset="0.2300" stop-color="#fff" stop-opacity="0.101"/><stop offset="0.2333" stop-color="#fff" stop-opacity="0.015"/><stop offset="0.2367" stop-color="#fff" stop-opacity="0.085"/><stop offset="0.2400" stop-color="#fff" stop-opacity="0.000"/><stop offset="0.2433" stop-color="#fff" stop-opacity="0.009"/><stop offset="0.2467" stop-color="#fff" stop-opacity="0.023"/><stop offset="0.2500" stop-color="#fff" stop-opacity="0.000"/><stop offset="0.2533" stop-color="#fff" stop-opacity="0.010"/><stop offset="0.2567" stop-color="#fff" stop-opacity="0.059"/><stop offset="0.2600" stop-color="#fff" stop-opacity="0.055"/><stop offset="0.2633" stop-color="#fff" stop-opacity="0.003"/><stop offset="0.2667" stop-color="#fff" stop-opacity="0.105"/><stop offset="0.2700" stop-color="#fff" stop-opacity="0.037"/><stop offset="0.2733" stop-color="#fff" stop-opacity="0.005"/><stop offset="0.2767" stop-color="#fff" stop-opacity="0.036"/><stop offset="0.2800" stop-color="#fff" stop-opacity="0.023"/><stop offset="0.2833" stop-color="#fff" stop-opacity="0.019"/><stop offset="0.2867" stop-color="#fff" stop-opacity="0.007"/><stop offset="0.2900" stop-color="#fff" stop-opacity="0.125"/><stop offset="0.2933" stop-color="#fff" stop-opacity="0.033"/><stop offset="0.2967" stop-color="#fff" stop-opacity="0.043"/><stop offset="0.3000" stop-color="#fff" stop-opacity="0.055"/><stop offset="0.3033" stop-color="#fff" stop-opacity="0.118"/><stop offset="0.3067" stop-color="#fff" stop-opacity="0.000"/><stop offset="0.3100" stop-color="#fff" stop-opacity="0.029"/><stop offset="0.3133" stop-color="#fff" stop-opacity="0.050"/><stop offset="0.3167" stop-color="#fff" stop-opacity="0.002"/><stop offset="0.3200" stop-color="#fff" stop-opacity="0.008"/><stop offset="0.3233" stop-color="#fff" stop-opacity="0.000"/><stop offset="0.3267" stop-color="#fff" stop-opacity="0.001"/><stop offset="0.3300" stop-color="#fff" stop-opacity="0.007"/><stop offset="0.3333" stop-color="#fff" stop-opacity="0.000"/><stop offset="0.3367" stop-color="#fff" stop-opacity="0.002"/><stop offset="0.3400" stop-color="#fff" stop-opacity="0.093"/><stop offset="0.3433" stop-color="#fff" stop-opacity="0.021"/><stop offset="0.3467" stop-color="#fff" stop-opacity="0.016"/><stop offset="0.3500" stop-color="#fff" stop-opacity="0.113"/><stop offset="0.3533" stop-color="#fff" stop-opacity="0.023"/><stop offset="0.3567" stop-color="#fff" stop-opacity="0.123"/><stop offset="0.3600" stop-color="#fff" stop-opacity="0.032"/><stop offset="0.3633" stop-color="#fff" stop-opacity="0.066"/><stop offset="0.3667" stop-color="#fff" stop-opacity="0.000"/><stop offset="0.3700" stop-color="#fff" stop-opacity="0.027"/><stop offset="0.3733" stop-color="#fff" stop-opacity="0.055"/><stop offset="0.3767" stop-color="#fff" stop-opacity="0.000"/><stop offset="0.3800" stop-color="#fff" stop-opacity="0.101"/><stop offset="0.3833" stop-color="#fff" stop-opacity="0.001"/><stop offset="0.3867" stop-color="#fff" stop-opacity="0.013"/><stop offset="0.3900" stop-color="#fff" stop-opacity="0.001"/><stop offset="0.3933" stop-color="#fff" stop-opacity="0.015"/><stop offset="0.3967" stop-color="#fff" stop-opacity="0.029"/><stop offset="0.4000" stop-color="#fff" stop-opacity="0.000"/><stop offset="0.4033" stop-color="#fff" stop-opacity="0.106"/><stop offset="0.4067" stop-color="#fff" stop-opacity="0.009"/><stop offset="0.4100" stop-color="#fff" stop-opacity="0.018"/><stop offset="0.4133" stop-color="#fff" stop-opacity="0.027"/><stop offset="0.4167" stop-color="#fff" stop-opacity="0.006"/><stop offset="0.4200" stop-color="#fff" stop-opacity="0.003"/><stop offset="0.4233" stop-color="#fff" stop-opacity="0.035"/><stop offset="0.4267" stop-color="#fff" stop-opacity="0.022"/><stop offset="0.4300" stop-color="#fff" stop-opacity="0.003"/><stop offset="0.4333" stop-color="#fff" stop-opacity="0.046"/><stop offset="0.4367" stop-color="#fff" stop-opacity="0.003"/><stop offset="0.4400" stop-color="#fff" stop-opacity="0.000"/><stop offset="0.4433" stop-color="#fff" stop-opacity="0.002"/><stop offset="0.4467" stop-color="#fff" stop-opacity="0.000"/><stop offset="0.4500" stop-color="#fff" stop-opacity="0.000"/><stop offset="0.4533" stop-color="#fff" stop-opacity="0.054"/><stop offset="0.4567" stop-color="#fff" stop-opacity="0.007"/><stop offset="0.4600" stop-color="#fff" stop-opacity="0.090"/><stop offset="0.4633" stop-color="#fff" stop-opacity="0.052"/><stop offset="0.4667" stop-color="#fff" stop-opacity="0.000"/><stop offset="0.4700" stop-color="#fff" stop-opacity="0.121"/><stop offset="0.4733" stop-color="#fff" stop-opacity="0.105"/><stop offset="0.4767" stop-color="#fff" stop-opacity="0.000"/><stop offset="0.4800" stop-color="#fff" stop-opacity="0.093"/><stop offset="0.4833" stop-color="#fff" stop-opacity="0.010"/><stop offset="0.4867" stop-color="#fff" stop-opacity="0.014"/><stop offset="0.4900" stop-color="#fff" stop-opacity="0.115"/><stop offset="0.4933" stop-color="#fff" stop-opacity="0.002"/><stop offset="0.4967" stop-color="#fff" stop-opacity="0.018"/><stop offset="0.5000" stop-color="#fff" stop-opacity="0.103"/><stop offset="0.5033" stop-color="#fff" stop-opacity="0.047"/><stop offset="0.5067" stop-color="#fff" stop-opacity="0.013"/><stop offset="0.5100" stop-color="#fff" stop-opacity="0.117"/><stop offset="0.5133" stop-color="#fff" stop-opacity="0.041"/><stop offset="0.5167" stop-color="#fff" stop-opacity="0.016"/><stop offset="0.5200" stop-color="#fff" stop-opacity="0.000"/><stop offset="0.5233" stop-color="#fff" stop-opacity="0.018"/><stop offset="0.5267" stop-color="#fff" stop-opacity="0.007"/><stop offset="0.5300" stop-color="#fff" stop-opacity="0.001"/><stop offset="0.5333" stop-color="#fff" stop-opacity="0.000"/><stop offset="0.5367" stop-color="#fff" stop-opacity="0.011"/><stop offset="0.5400" stop-color="#fff" stop-opacity="0.000"/><stop offset="0.5433" stop-color="#fff" stop-opacity="0.007"/><stop offset="0.5467" stop-color="#fff" stop-opacity="0.022"/><stop offset="0.5500" stop-color="#fff" stop-opacity="0.007"/><stop offset="0.5533" stop-color="#fff" stop-opacity="0.001"/><stop offset="0.5567" stop-color="#fff" stop-opacity="0.015"/><stop offset="0.5600" stop-color="#fff" stop-opacity="0.006"/><stop offset="0.5633" stop-color="#fff" stop-opacity="0.035"/><stop offset="0.5667" stop-color="#fff" stop-opacity="0.011"/><stop offset="0.5700" stop-color="#fff" stop-opacity="0.074"/><stop offset="0.5733" stop-color="#fff" stop-opacity="0.065"/><stop offset="0.5767" stop-color="#fff" stop-opacity="0.030"/><stop offset="0.5800" stop-color="#fff" stop-opacity="0.001"/><stop offset="0.5833" stop-color="#fff" stop-opacity="0.000"/><stop offset="0.5867" stop-color="#fff" stop-opacity="0.053"/><stop offset="0.5900" stop-color="#fff" stop-opacity="0.036"/><stop offset="0.5933" stop-color="#fff" stop-opacity="0.018"/><stop offset="0.5967" stop-color="#fff" stop-opacity="0.003"/><stop offset="0.6000" stop-color="#fff" stop-opacity="0.002"/><stop offset="0.6033" stop-color="#fff" stop-opacity="0.024"/><stop offset="0.6067" stop-color="#fff" stop-opacity="0.014"/><stop offset="0.6100" stop-color="#fff" stop-opacity="0.016"/><stop offset="0.6133" stop-color="#fff" stop-opacity="0.019"/><stop offset="0.6167" stop-color="#fff" stop-opacity="0.032"/><stop offset="0.6200" stop-color="#fff" stop-opacity="0.001"/><stop offset="0.6233" stop-color="#fff" stop-opacity="0.001"/><stop offset="0.6267" stop-color="#fff" stop-opacity="0.071"/><stop offset="0.6300" stop-color="#fff" stop-opacity="0.058"/><stop offset="0.6333" stop-color="#fff" stop-opacity="0.051"/><stop offset="0.6367" stop-color="#fff" stop-opacity="0.000"/><stop offset="0.6400" stop-color="#fff" stop-opacity="0.000"/><stop offset="0.6433" stop-color="#fff" stop-opacity="0.001"/><stop offset="0.6467" stop-color="#fff" stop-opacity="0.006"/><stop offset="0.6500" stop-color="#fff" stop-opacity="0.018"/><stop offset="0.6533" stop-color="#fff" stop-opacity="0.000"/><stop offset="0.6567" stop-color="#fff" stop-opacity="0.012"/><stop offset="0.6600" stop-color="#fff" stop-opacity="0.000"/><stop offset="0.6633" stop-color="#fff" stop-opacity="0.000"/><stop offset="0.6667" stop-color="#fff" stop-opacity="0.023"/><stop offset="0.6700" stop-color="#fff" stop-opacity="0.013"/><stop offset="0.6733" stop-color="#fff" stop-opacity="0.019"/><stop offset="0.6767" stop-color="#fff" stop-opacity="0.004"/><stop offset="0.6800" stop-color="#fff" stop-opacity="0.008"/><stop offset="0.6833" stop-color="#fff" stop-opacity="0.001"/><stop offset="0.6867" stop-color="#fff" stop-opacity="0.003"/><stop offset="0.6900" stop-color="#fff" stop-opacity="0.031"/><stop offset="0.6933" stop-color="#fff" stop-opacity="0.044"/><stop offset="0.6967" stop-color="#fff" stop-opacity="0.000"/><stop offset="0.7000" stop-color="#fff" stop-opacity="0.000"/><stop offset="0.7033" stop-color="#fff" stop-opacity="0.040"/><stop offset="0.7067" stop-color="#fff" stop-opacity="0.018"/><stop offset="0.7100" stop-color="#fff" stop-opacity="0.034"/><stop offset="0.7133" stop-color="#fff" stop-opacity="0.001"/><stop offset="0.7167" stop-color="#fff" stop-opacity="0.006"/><stop offset="0.7200" stop-color="#fff" stop-opacity="0.001"/><stop offset="0.7233" stop-color="#fff" stop-opacity="0.040"/><stop offset="0.7267" stop-color="#fff" stop-opacity="0.004"/><stop offset="0.7300" stop-color="#fff" stop-opacity="0.021"/><stop offset="0.7333" stop-color="#fff" stop-opacity="0.073"/><stop offset="0.7367" stop-color="#fff" stop-opacity="0.003"/><stop offset="0.7400" stop-color="#fff" stop-opacity="0.012"/><stop offset="0.7433" stop-color="#fff" stop-opacity="0.031"/><stop offset="0.7467" stop-color="#fff" stop-opacity="0.059"/><stop offset="0.7500" stop-color="#fff" stop-opacity="0.006"/><stop offset="0.7533" stop-color="#fff" stop-opacity="0.004"/><stop offset="0.7567" stop-color="#fff" stop-opacity="0.000"/><stop offset="0.7600" stop-color="#fff" stop-opacity="0.050"/><stop offset="0.7633" stop-color="#fff" stop-opacity="0.000"/><stop offset="0.7667" stop-color="#fff" stop-opacity="0.000"/><stop offset="0.7700" stop-color="#fff" stop-opacity="0.013"/><stop offset="0.7733" stop-color="#fff" stop-opacity="0.009"/><stop offset="0.7767" stop-color="#fff" stop-opacity="0.024"/><stop offset="0.7800" stop-color="#fff" stop-opacity="0.002"/><stop offset="0.7833" stop-color="#fff" stop-opacity="0.035"/><stop offset="0.7867" stop-color="#fff" stop-opacity="0.000"/><stop offset="0.7900" stop-color="#fff" stop-opacity="0.001"/><stop offset="0.7933" stop-color="#fff" stop-opacity="0.022"/><stop offset="0.7967" stop-color="#fff" stop-opacity="0.000"/><stop offset="0.8000" stop-color="#fff" stop-opacity="0.002"/><stop offset="0.8033" stop-color="#fff" stop-opacity="0.029"/><stop offset="0.8067" stop-color="#fff" stop-opacity="0.025"/><stop offset="0.8100" stop-color="#fff" stop-opacity="0.002"/><stop offset="0.8133" stop-color="#fff" stop-opacity="0.000"/><stop offset="0.8167" stop-color="#fff" stop-opacity="0.003"/><stop offset="0.8200" stop-color="#fff" stop-opacity="0.029"/><stop offset="0.8233" stop-color="#fff" stop-opacity="0.004"/><stop offset="0.8267" stop-color="#fff" stop-opacity="0.000"/><stop offset="0.8300" stop-color="#fff" stop-opacity="0.027"/><stop offset="0.8333" stop-color="#fff" stop-opacity="0.014"/><stop offset="0.8367" stop-color="#fff" stop-opacity="0.058"/><stop offset="0.8400" stop-color="#fff" stop-opacity="0.062"/><stop offset="0.8433" stop-color="#fff" stop-opacity="0.057"/><stop offset="0.8467" stop-color="#fff" stop-opacity="0.006"/><stop offset="0.8500" stop-color="#fff" stop-opacity="0.039"/><stop offset="0.8533" stop-color="#fff" stop-opacity="0.002"/><stop offset="0.8567" stop-color="#fff" stop-opacity="0.002"/><stop offset="0.8600" stop-color="#fff" stop-opacity="0.005"/><stop offset="0.8633" stop-color="#fff" stop-opacity="0.061"/><stop offset="0.8667" stop-color="#fff" stop-opacity="0.054"/><stop offset="0.8700" stop-color="#fff" stop-opacity="0.001"/><stop offset="0.8733" stop-color="#fff" stop-opacity="0.004"/><stop offset="0.8767" stop-color="#fff" stop-opacity="0.004"/><stop offset="0.8800" stop-color="#fff" stop-opacity="0.004"/><stop offset="0.8833" stop-color="#fff" stop-opacity="0.005"/><stop offset="0.8867" stop-color="#fff" stop-opacity="0.004"/><stop offset="0.8900" stop-color="#fff" stop-opacity="0.001"/><stop offset="0.8933" stop-color="#fff" stop-opacity="0.013"/><stop offset="0.8967" stop-color="#fff" stop-opacity="0.038"/><stop offset="0.9000" stop-color="#fff" stop-opacity="0.012"/><stop offset="0.9033" stop-color="#fff" stop-opacity="0.044"/><stop offset="0.9067" stop-color="#fff" stop-opacity="0.013"/><stop offset="0.9100" stop-color="#fff" stop-opacity="0.000"/><stop offset="0.9133" stop-color="#fff" stop-opacity="0.033"/><stop offset="0.9167" stop-color="#fff" stop-opacity="0.051"/><stop offset="0.9200" stop-color="#fff" stop-opacity="0.002"/><stop offset="0.9233" stop-color="#fff" stop-opacity="0.000"/><stop offset="0.9267" stop-color="#fff" stop-opacity="0.010"/><stop offset="0.9300" stop-color="#fff" stop-opacity="0.012"/><stop offset="0.9333" stop-color="#fff" stop-opacity="0.014"/><stop offset="0.9367" stop-color="#fff" stop-opacity="0.068"/><stop offset="0.9400" stop-color="#fff" stop-opacity="0.021"/><stop offset="0.9433" stop-color="#fff" stop-opacity="0.039"/><stop offset="0.9467" stop-color="#fff" stop-opacity="0.000"/><stop offset="0.9500" stop-color="#fff" stop-opacity="0.012"/><stop offset="0.9533" stop-color="#fff" stop-opacity="0.037"/><stop offset="0.9567" stop-color="#fff" stop-opacity="0.000"/><stop offset="0.9600" stop-color="#fff" stop-opacity="0.000"/><stop offset="0.9633" stop-color="#fff" stop-opacity="0.030"/><stop offset="0.9667" stop-color="#fff" stop-opacity="0.055"/><stop offset="0.9700" stop-color="#fff" stop-opacity="0.000"/><stop offset="0.9733" stop-color="#fff" stop-opacity="0.019"/><stop offset="0.9767" stop-color="#fff" stop-opacity="0.000"/><stop offset="0.9800" stop-color="#fff" stop-opacity="0.031"/><stop offset="0.9833" stop-color="#fff" stop-opacity="0.021"/><stop offset="0.9867" stop-color="#fff" stop-opacity="0.001"/><stop offset="0.9900" stop-color="#fff" stop-opacity="0.001"/><stop offset="0.9933" stop-color="#fff" stop-opacity="0.034"/><stop offset="0.9967" stop-color="#fff" stop-opacity="0.011"/><stop offset="1.0000" stop-color="#fff" stop-opacity="0.034"/></linearGradient>
<linearGradient id="fadeDown" x1="0" x2="0" y1="0" y2="1"><stop offset="0" stop-color="#fff" stop-opacity="1"/><stop offset="0.45" stop-color="#fff" stop-opacity="0.6"/><stop offset="1" stop-color="#fff" stop-opacity="0"/></linearGradient>
<mask id="mFadeDown" maskContentUnits="objectBoundingBox"><rect x="0" y="0" width="1" height="1" fill="url(#fadeDown)"/></mask>
<linearGradient id="fadeUp" x1="0" x2="0" y1="0" y2="1"><stop offset="0" stop-color="#fff" stop-opacity="0"/><stop offset="0.5" stop-color="#fff" stop-opacity="0.5"/><stop offset="1" stop-color="#fff" stop-opacity="1"/></linearGradient>
<mask id="mFadeUp" maskContentUnits="objectBoundingBox"><rect x="0" y="0" width="1" height="1" fill="url(#fadeUp)"/></mask>
<linearGradient id="p1glow" x1="0" x2="0" y1="0" y2="1"><stop offset="0" stop-color="#fff" stop-opacity="0"/><stop offset="0.2" stop-color="#fff" stop-opacity="0.14"/><stop offset="0.4" stop-color="#fff" stop-opacity="0.3"/><stop offset="1" stop-color="#fff" stop-opacity="0.35"/></linearGradient>
<linearGradient id="p1core" x1="0" x2="0" y1="0" y2="1"><stop offset="0" stop-color="#fff" stop-opacity="0"/><stop offset="0.1" stop-color="#fff" stop-opacity="0.25"/><stop offset="0.2" stop-color="#fff" stop-opacity="0.55"/><stop offset="0.3" stop-color="#fff" stop-opacity="0.85"/><stop offset="0.4" stop-color="#fff" stop-opacity="1"/><stop offset="1" stop-color="#fff" stop-opacity="1"/></linearGradient>
<linearGradient id="p1y" x1="0" x2="0" y1="0" y2="1"><stop offset="0" stop-color="#ffff60" stop-opacity="0"/><stop offset="0.35" stop-color="#ffff40" stop-opacity="0.35"/><stop offset="0.65" stop-color="#fff020" stop-opacity="0.7"/><stop offset="0.88" stop-color="#f8d010" stop-opacity="0.95"/><stop offset="1" stop-color="#eea800" stop-opacity="1"/></linearGradient>
<linearGradient id="p2v" x1="0" x2="0" y1="0" y2="1"><stop offset="0" stop-color="#fff" stop-opacity="0"/><stop offset="0.3" stop-color="#fff" stop-opacity="0.25"/><stop offset="0.45" stop-color="#fff" stop-opacity="0.38"/><stop offset="1" stop-color="#fff" stop-opacity="0.4"/></linearGradient>
<linearGradient id="p3v" x1="0" x2="0" y1="0" y2="1"><stop offset="0" stop-color="#fff" stop-opacity="0"/><stop offset="0.4" stop-color="#fff" stop-opacity="0.18"/><stop offset="1" stop-color="#fff" stop-opacity="0.3"/></linearGradient>
<filter id="bx1" x="-50%" y="0" width="200%" height="100%"><feGaussianBlur stdDeviation="0.9 0"/></filter>
<filter id="bx2" x="-100%" y="0" width="300%" height="100%"><feGaussianBlur stdDeviation="2.5 0"/></filter>
<filter id="bx3" x="-100%" y="0" width="300%" height="100%"><feGaussianBlur stdDeviation="1.6 0"/></filter>
<linearGradient id="cbar" x1="0" x2="0" y1="0" y2="1"><stop offset="0" stop-color="#f5bc00"/><stop offset="0.05" stop-color="#fde000"/><stop offset="0.11" stop-color="#ffff00"/><stop offset="0.2" stop-color="#ffff30"/><stop offset="0.32" stop-color="#ffff9a"/><stop offset="0.42" stop-color="#ffffea"/><stop offset="0.47" stop-color="#f8f8ff"/><stop offset="0.6" stop-color="#c8c8ff"/><stop offset="0.78" stop-color="#8080ff"/><stop offset="1" stop-color="#1a1aff"/></linearGradient>
<clipPath id="hclip"><rect x="332" y="28" width="528" height="608.5"/></clipPath>
</defs>
<g clip-path="url(#hclip)">
<rect x="332.50" y="27.90" width="527.30" height="608.90" fill="#0202f9" />
<rect x="332.50" y="27.90" width="527.30" height="608.90" fill="url(#streakA)" />
<rect x="332.50" y="27.90" width="527.30" height="456.67" fill="url(#streakB)" mask="url(#mFadeDown)"/>
<rect x="366.2" y="28" width="4" height="352" fill="#fff" opacity="0.2" filter="url(#bx1)" mask="url(#mFadeDown)"/>
<rect x="346.0" y="28" width="2" height="302" fill="#fff" opacity="0.1" filter="url(#bx1)" mask="url(#mFadeDown)"/>
<rect x="382.4" y="28" width="2" height="272" fill="#fff" opacity="0.08" filter="url(#bx1)" mask="url(#mFadeDown)"/>
<rect x="529.5" y="28" width="3.5" height="352" fill="#fff" opacity="0.2" filter="url(#bx1)" mask="url(#mFadeDown)"/>
<rect x="538.5" y="28" width="2" height="222" fill="#fff" opacity="0.08" filter="url(#bx1)" mask="url(#mFadeDown)"/>
<rect x="405.9" y="28" width="2" height="222" fill="#fff" opacity="0.06" filter="url(#bx1)" mask="url(#mFadeDown)"/>
<rect x="438.7" y="28" width="2" height="192" fill="#fff" opacity="0.05" filter="url(#bx1)" mask="url(#mFadeDown)"/>
<rect x="337.8" y="330" width="2" height="306" fill="#fff" opacity="0.1" filter="url(#bx1)" mask="url(#mFadeUp)"/>
<rect x="347.2" y="360" width="2" height="276" fill="#fff" opacity="0.08" filter="url(#bx1)" mask="url(#mFadeUp)"/>
<rect x="366.0" y="380" width="2" height="256" fill="#fff" opacity="0.08" filter="url(#bx1)" mask="url(#mFadeUp)"/>
<rect x="383.6" y="400" width="2" height="236" fill="#fff" opacity="0.07" filter="url(#bx1)" mask="url(#mFadeUp)"/>
<rect x="415.9" y="380" width="3" height="256" fill="#fff" opacity="0.1" filter="url(#bx1)" mask="url(#mFadeUp)"/>
<rect x="443.4" y="400" width="2" height="236" fill="#fff" opacity="0.08" filter="url(#bx1)" mask="url(#mFadeUp)"/>
<rect x="481.0" y="420" width="2" height="216" fill="#fff" opacity="0.06" filter="url(#bx1)" mask="url(#mFadeUp)"/>
<rect x="498.6" y="430" width="2" height="206" fill="#fff" opacity="0.07" filter="url(#bx1)" mask="url(#mFadeUp)"/>
<rect x="419.5" y="295" width="22" height="341.8" fill="url(#p1glow)" filter="url(#bx2)"/>
<polygon points="430.0,350 433.4,350 434.8,636.8 426.0,636.8" fill="url(#p1core)" filter="url(#bx1)"/>
<rect x="426.6" y="550" width="4.0" height="86.8" fill="url(#p1y)" filter="url(#bx1)"/>
<rect x="509.7" y="395" width="8" height="241.8" fill="url(#p2v)" filter="url(#bx3)"/>
<rect x="512.2" y="430" width="3" height="206.8" fill="url(#p2v)" filter="url(#bx1)"/>
<rect x="789.4" y="390" width="6" height="246.8" fill="url(#p3v)" filter="url(#bx3)"/>
</g>
<line x1="332.50" y1="262.50" x2="857.00" y2="262.50" stroke="#d8d8ff" stroke-width="2" stroke-dasharray="5 4.5" opacity="0.25"/>
<line x1="332.50" y1="324.80" x2="857.00" y2="324.80" stroke="#d8d8ff" stroke-width="2" stroke-dasharray="5 4.5" opacity="0.25"/>
<line x1="332.50" y1="362.60" x2="857.00" y2="362.60" stroke="#d8d8ff" stroke-width="2" stroke-dasharray="5 4.5" opacity="0.25"/>
<line x1="332.50" y1="468.70" x2="857.00" y2="468.70" stroke="#d8d8ff" stroke-width="2" stroke-dasharray="5 4.5" opacity="0.25"/>
<rect x="332.5" y="27.9" width="527.3" height="608.9" fill="none" stroke="#000" stroke-width="2.6"/>
<line x1="390.45" y1="636.80" x2="390.45" y2="644.20" stroke="#000" stroke-width="3" />
<text x="390.4" y="669.7" font-size="25.5" fill="#000" text-anchor="middle" >40</text>
<line x1="507.80" y1="636.80" x2="507.80" y2="644.20" stroke="#000" stroke-width="3" />
<text x="507.8" y="669.7" font-size="25.5" fill="#000" text-anchor="middle" >50</text>
<line x1="625.15" y1="636.80" x2="625.15" y2="644.20" stroke="#000" stroke-width="3" />
<text x="625.1" y="669.7" font-size="25.5" fill="#000" text-anchor="middle" >60</text>
<line x1="742.50" y1="636.80" x2="742.50" y2="644.20" stroke="#000" stroke-width="3" />
<text x="742.5" y="669.7" font-size="25.5" fill="#000" text-anchor="middle" >70</text>
<line x1="859.85" y1="636.80" x2="859.85" y2="644.20" stroke="#000" stroke-width="3" />
<text x="859.8" y="669.7" font-size="25.5" fill="#000" text-anchor="middle" >80</text>
<line x1="331.77" y1="636.80" x2="331.77" y2="639.80" stroke="#000" stroke-width="3" />
<line x1="449.12" y1="636.80" x2="449.12" y2="639.80" stroke="#000" stroke-width="3" />
<line x1="566.47" y1="636.80" x2="566.47" y2="639.80" stroke="#000" stroke-width="3" />
<line x1="683.83" y1="636.80" x2="683.83" y2="639.80" stroke="#000" stroke-width="3" />
<line x1="801.17" y1="636.80" x2="801.17" y2="639.80" stroke="#000" stroke-width="3" />
<text transform="translate(593.5,719.5) scale(1.022,1)" font-size="40" text-anchor="middle">2 Theta (deg)</text>
<rect x="899.80" y="46.00" width="41.70" height="572.00" fill="url(#cbar)" />
<text transform="translate(927.7,311.7) rotate(-90)" font-size="30.6" text-anchor="middle">Intensity</text>
<text x="966.0" y="44.9" font-size="64" fill="#000" text-anchor="start" >b</text>
<rect x="1215.40" y="28.70" width="57.60" height="605.70" fill="#71a5d9" />
<rect x="1215.40" y="283.80" width="57.60" height="350.60" fill="#ee8781" />
<rect x="1355.40" y="28.70" width="57.60" height="605.70" fill="#71a5d9" />
<rect x="1355.40" y="468.20" width="57.60" height="166.20" fill="#ee8781" />
<rect x="1496.30" y="28.70" width="57.60" height="605.70" fill="#71a5d9" />
<rect x="1496.30" y="397.10" width="57.60" height="237.30" fill="#ee8781" />
<rect x="1636.40" y="28.70" width="57.60" height="605.70" fill="#71a5d9" />
<rect x="1636.40" y="364.60" width="57.60" height="269.80" fill="#ee8781" />
<rect x="1777.30" y="28.70" width="57.60" height="605.70" fill="#71a5d9" />
<rect x="1777.30" y="337.60" width="57.60" height="296.80" fill="#ee8781" />
<text x="1159.2" y="84.2" font-size="42.5" fill="#649cd6" text-anchor="middle" >Cu</text>
<rect x="1133.90" y="93.30" width="51.60" height="36.00" fill="#71a5d9" />
<text x="1158.8" y="567.4" font-size="41.6" fill="#ec7f79" text-anchor="middle" >Zn</text>
<rect x="1133.90" y="577.60" width="51.60" height="35.10" fill="#ee8781" />
<line x1="1104.00" y1="28.70" x2="1853.30" y2="28.70" stroke="#000" stroke-width="4" />
<line x1="1104.00" y1="634.40" x2="1853.30" y2="634.40" stroke="#000" stroke-width="4" />
<line x1="1104.00" y1="26.70" x2="1104.00" y2="636.40" stroke="#ee8680" stroke-width="4" />
<line x1="1853.30" y1="26.70" x2="1853.30" y2="636.40" stroke="#6ea3d7" stroke-width="4" />
<line x1="1092.00" y1="634.40" x2="1104.00" y2="634.40" stroke="#ee8680" stroke-width="3.5" />
<text x="1084.7" y="646.6" font-size="40" fill="#ee8680" text-anchor="end" >0</text>
<line x1="1092.00" y1="513.26" x2="1104.00" y2="513.26" stroke="#ee8680" stroke-width="3.5" />
<text x="1084.7" y="525.5" font-size="40" fill="#ee8680" text-anchor="end" >20</text>
<line x1="1092.00" y1="392.12" x2="1104.00" y2="392.12" stroke="#ee8680" stroke-width="3.5" />
<text x="1084.7" y="404.3" font-size="40" fill="#ee8680" text-anchor="end" >40</text>
<line x1="1092.00" y1="270.98" x2="1104.00" y2="270.98" stroke="#ee8680" stroke-width="3.5" />
<text x="1084.7" y="283.2" font-size="40" fill="#ee8680" text-anchor="end" >60</text>
<line x1="1092.00" y1="149.84" x2="1104.00" y2="149.84" stroke="#ee8680" stroke-width="3.5" />
<text x="1084.7" y="162.0" font-size="40" fill="#ee8680" text-anchor="end" >80</text>
<line x1="1092.00" y1="28.70" x2="1104.00" y2="28.70" stroke="#ee8680" stroke-width="3.5" />
<text x="1084.7" y="40.9" font-size="40" fill="#ee8680" text-anchor="end" >100</text>
<line x1="1097.00" y1="573.83" x2="1104.00" y2="573.83" stroke="#ee8680" stroke-width="3.5" />
<line x1="1097.00" y1="452.69" x2="1104.00" y2="452.69" stroke="#ee8680" stroke-width="3.5" />
<line x1="1097.00" y1="331.55" x2="1104.00" y2="331.55" stroke="#ee8680" stroke-width="3.5" />
<line x1="1097.00" y1="210.41" x2="1104.00" y2="210.41" stroke="#ee8680" stroke-width="3.5" />
<line x1="1097.00" y1="89.27" x2="1104.00" y2="89.27" stroke="#ee8680" stroke-width="3.5" />
<line x1="1853.30" y1="28.70" x2="1865.00" y2="28.70" stroke="#6ea3d7" stroke-width="3.5" />
<text x="1873.0" y="40.9" font-size="40" fill="#6ea3d7" text-anchor="start" >0</text>
<line x1="1853.30" y1="149.84" x2="1865.00" y2="149.84" stroke="#6ea3d7" stroke-width="3.5" />
<text x="1873.0" y="162.0" font-size="40" fill="#6ea3d7" text-anchor="start" >20</text>
<line x1="1853.30" y1="270.98" x2="1865.00" y2="270.98" stroke="#6ea3d7" stroke-width="3.5" />
<text x="1873.0" y="283.2" font-size="40" fill="#6ea3d7" text-anchor="start" >40</text>
<line x1="1853.30" y1="392.12" x2="1865.00" y2="392.12" stroke="#6ea3d7" stroke-width="3.5" />
<text x="1873.0" y="404.3" font-size="40" fill="#6ea3d7" text-anchor="start" >60</text>
<line x1="1853.30" y1="513.26" x2="1865.00" y2="513.26" stroke="#6ea3d7" stroke-width="3.5" />
<text x="1873.0" y="525.5" font-size="40" fill="#6ea3d7" text-anchor="start" >80</text>
<line x1="1853.30" y1="634.40" x2="1865.00" y2="634.40" stroke="#6ea3d7" stroke-width="3.5" />
<text x="1873.0" y="646.6" font-size="40" fill="#6ea3d7" text-anchor="start" >100</text>
<line x1="1853.30" y1="89.27" x2="1860.00" y2="89.27" stroke="#6ea3d7" stroke-width="3.5" />
<line x1="1853.30" y1="210.41" x2="1860.00" y2="210.41" stroke="#6ea3d7" stroke-width="3.5" />
<line x1="1853.30" y1="331.55" x2="1860.00" y2="331.55" stroke="#6ea3d7" stroke-width="3.5" />
<line x1="1853.30" y1="452.69" x2="1860.00" y2="452.69" stroke="#6ea3d7" stroke-width="3.5" />
<line x1="1853.30" y1="573.83" x2="1860.00" y2="573.83" stroke="#6ea3d7" stroke-width="3.5" />
<line x1="1244.20" y1="634.40" x2="1244.20" y2="646.00" stroke="#000" stroke-width="4" />
<text x="1245.0" y="683.3" font-size="40" fill="#000" text-anchor="middle" >5</text>
<line x1="1384.20" y1="634.40" x2="1384.20" y2="646.00" stroke="#000" stroke-width="4" />
<text x="1385.0" y="683.3" font-size="40" fill="#000" text-anchor="middle" >10</text>
<line x1="1525.10" y1="634.40" x2="1525.10" y2="646.00" stroke="#000" stroke-width="4" />
<text x="1525.9" y="683.3" font-size="40" fill="#000" text-anchor="middle" >30</text>
<line x1="1665.20" y1="634.40" x2="1665.20" y2="646.00" stroke="#000" stroke-width="4" />
<text x="1666.0" y="683.3" font-size="40" fill="#000" text-anchor="middle" >60</text>
<line x1="1806.10" y1="634.40" x2="1806.10" y2="646.00" stroke="#000" stroke-width="4" />
<text x="1806.9" y="683.3" font-size="40" fill="#000" text-anchor="middle" >120</text>
<text transform="translate(1478.3,735.2) scale(1.033,1)" font-size="40" text-anchor="middle">Time (s)</text>
<text transform="translate(1018.8,331.8) rotate(-90)" font-size="40.3" text-anchor="middle">Zn (%)</text>
<text transform="translate(1963.3,331.3) rotate(-90)" font-size="40.5" text-anchor="middle">Cu (%)</text>
<text x="2.5" y="798.3" font-size="64" fill="#000" text-anchor="start" >c</text>
<rect x="174.05" y="1023.10" width="68.50" height="379.10" fill="#4f9bc7" />
<rect x="287.30" y="1037.00" width="68.50" height="365.20" fill="#4f9bc7" />
<rect x="400.55" y="1042.00" width="68.50" height="360.20" fill="#4f9bc7" />
<rect x="513.80" y="1051.20" width="68.50" height="351.00" fill="#4f9bc7" />
<rect x="627.05" y="1065.40" width="68.50" height="336.80" fill="#4f9bc7" />
<rect x="740.30" y="1077.10" width="68.50" height="325.10" fill="#4f9bc7" />
<rect x="853.55" y="1072.40" width="68.50" height="329.80" fill="#4f9bc7" />
<rect x="966.80" y="1082.20" width="68.50" height="320.00" fill="#4f9bc7" />
<rect x="1080.05" y="1087.20" width="68.50" height="315.00" fill="#4f9bc7" />
<rect x="1193.30" y="1089.10" width="68.50" height="313.10" fill="#4f9bc7" />
<rect x="1306.55" y="1087.20" width="68.50" height="315.00" fill="#4f9bc7" />
<rect x="1419.80" y="1091.40" width="68.50" height="310.80" fill="#4f9bc7" />
<rect x="1533.05" y="1108.10" width="68.50" height="294.10" fill="#4f9bc7" />
<rect x="1646.30" y="1098.70" width="68.50" height="303.50" fill="#4f9bc7" />
<rect x="1759.55" y="1103.70" width="68.50" height="298.50" fill="#4f9bc7" />
<line x1="208.30" y1="1005.00" x2="208.30" y2="1040.90" stroke="#000" stroke-width="3" />
<line x1="199.90" y1="1005.00" x2="216.70" y2="1005.00" stroke="#000" stroke-width="3.3" />
<line x1="199.90" y1="1040.90" x2="216.70" y2="1040.90" stroke="#000" stroke-width="3.3" />
<circle cx="208.30" cy="1004.10" r="5.8" fill="#2a6db3"/>
<circle cx="208.30" cy="1025.60" r="5.8" fill="#2a6db3"/>
<circle cx="208.30" cy="1039.80" r="5.8" fill="#2a6db3"/>
<line x1="321.55" y1="1002.20" x2="321.55" y2="1072.40" stroke="#000" stroke-width="3" />
<line x1="313.15" y1="1002.20" x2="329.95" y2="1002.20" stroke="#000" stroke-width="3.3" />
<line x1="313.15" y1="1072.40" x2="329.95" y2="1072.40" stroke="#000" stroke-width="3.3" />
<circle cx="321.55" cy="996.90" r="5.8" fill="#2a6db3"/>
<circle cx="321.55" cy="1053.40" r="5.8" fill="#2a6db3"/>
<circle cx="321.55" cy="1060.40" r="5.8" fill="#2a6db3"/>
<line x1="434.80" y1="1010.00" x2="434.80" y2="1074.40" stroke="#000" stroke-width="3" />
<line x1="426.40" y1="1010.00" x2="443.20" y2="1010.00" stroke="#000" stroke-width="3.3" />
<line x1="426.40" y1="1074.40" x2="443.20" y2="1074.40" stroke="#000" stroke-width="3.3" />
<circle cx="434.80" cy="1010.80" r="5.8" fill="#2a6db3"/>
<circle cx="434.80" cy="1039.80" r="5.8" fill="#2a6db3"/>
<circle cx="434.80" cy="1074.40" r="5.8" fill="#2a6db3"/>
<line x1="548.05" y1="1036.40" x2="548.05" y2="1066.60" stroke="#000" stroke-width="3" />
<line x1="539.65" y1="1036.40" x2="556.45" y2="1036.40" stroke="#000" stroke-width="3.3" />
<line x1="539.65" y1="1066.60" x2="556.45" y2="1066.60" stroke="#000" stroke-width="3.3" />
<circle cx="548.05" cy="1038.40" r="5.8" fill="#2a6db3"/>
<circle cx="548.05" cy="1045.90" r="5.8" fill="#2a6db3"/>
<circle cx="548.05" cy="1067.40" r="5.8" fill="#2a6db3"/>
<line x1="661.30" y1="1047.90" x2="661.30" y2="1083.30" stroke="#000" stroke-width="3" />
<line x1="652.90" y1="1047.90" x2="669.70" y2="1047.90" stroke="#000" stroke-width="3.3" />
<line x1="652.90" y1="1083.30" x2="669.70" y2="1083.30" stroke="#000" stroke-width="3.3" />
<circle cx="661.30" cy="1046.50" r="5.8" fill="#2a6db3"/>
<circle cx="661.30" cy="1068.00" r="5.8" fill="#2a6db3"/>
<circle cx="661.30" cy="1082.20" r="5.8" fill="#2a6db3"/>
<line x1="774.55" y1="1069.00" x2="774.55" y2="1085.50" stroke="#000" stroke-width="3" />
<line x1="766.15" y1="1069.00" x2="782.95" y2="1069.00" stroke="#000" stroke-width="3.3" />
<line x1="766.15" y1="1085.50" x2="782.95" y2="1085.50" stroke="#000" stroke-width="3.3" />
<circle cx="774.55" cy="1067.70" r="5.8" fill="#2a6db3"/>
<circle cx="774.55" cy="1080.00" r="5.8" fill="#2a6db3"/>
<circle cx="774.55" cy="1083.50" r="5.8" fill="#2a6db3"/>
<line x1="887.80" y1="1061.80" x2="887.80" y2="1083.60" stroke="#000" stroke-width="3" />
<line x1="879.40" y1="1061.80" x2="896.20" y2="1061.80" stroke="#000" stroke-width="3.3" />
<line x1="879.40" y1="1083.60" x2="896.20" y2="1083.60" stroke="#000" stroke-width="3.3" />
<circle cx="887.80" cy="1060.40" r="5.8" fill="#2a6db3"/>
<circle cx="887.80" cy="1074.90" r="5.8" fill="#2a6db3"/>
<circle cx="887.80" cy="1081.60" r="5.8" fill="#2a6db3"/>
<line x1="1001.05" y1="1075.20" x2="1001.05" y2="1089.70" stroke="#000" stroke-width="3" />
<line x1="992.65" y1="1075.20" x2="1009.45" y2="1075.20" stroke="#000" stroke-width="3.3" />
<line x1="992.65" y1="1089.70" x2="1009.45" y2="1089.70" stroke="#000" stroke-width="3.3" />
<circle cx="1001.05" cy="1074.90" r="5.8" fill="#2a6db3"/>
<circle cx="1001.05" cy="1082.70" r="5.8" fill="#2a6db3"/>
<circle cx="1001.05" cy="1089.10" r="5.8" fill="#2a6db3"/>
<line x1="1114.30" y1="1076.00" x2="1114.30" y2="1098.30" stroke="#000" stroke-width="3" />
<line x1="1105.90" y1="1076.00" x2="1122.70" y2="1076.00" stroke="#000" stroke-width="3.3" />
<line x1="1105.90" y1="1098.30" x2="1122.70" y2="1098.30" stroke="#000" stroke-width="3.3" />
<circle cx="1114.30" cy="1074.90" r="5.8" fill="#2a6db3"/>
<circle cx="1114.30" cy="1088.90" r="5.8" fill="#2a6db3"/>
<circle cx="1114.30" cy="1095.80" r="5.8" fill="#2a6db3"/>
<line x1="1227.55" y1="1075.50" x2="1227.55" y2="1103.90" stroke="#000" stroke-width="3" />
<line x1="1219.15" y1="1075.50" x2="1235.95" y2="1075.50" stroke="#000" stroke-width="3.3" />
<line x1="1219.15" y1="1103.90" x2="1235.95" y2="1103.90" stroke="#000" stroke-width="3.3" />
<circle cx="1227.55" cy="1074.90" r="5.8" fill="#2a6db3"/>
<circle cx="1227.55" cy="1089.70" r="5.8" fill="#2a6db3"/>
<circle cx="1227.55" cy="1103.60" r="5.8" fill="#2a6db3"/>
<line x1="1340.80" y1="1072.10" x2="1340.80" y2="1102.20" stroke="#000" stroke-width="3" />
<line x1="1332.40" y1="1072.10" x2="1349.20" y2="1072.10" stroke="#000" stroke-width="3.3" />
<line x1="1332.40" y1="1102.20" x2="1349.20" y2="1102.20" stroke="#000" stroke-width="3.3" />
<circle cx="1340.80" cy="1074.90" r="5.8" fill="#2a6db3"/>
<circle cx="1340.80" cy="1081.90" r="5.8" fill="#2a6db3"/>
<circle cx="1340.80" cy="1103.60" r="5.8" fill="#2a6db3"/>
<line x1="1454.05" y1="1081.00" x2="1454.05" y2="1103.00" stroke="#000" stroke-width="3" />
<line x1="1445.65" y1="1081.00" x2="1462.45" y2="1081.00" stroke="#000" stroke-width="3.3" />
<line x1="1445.65" y1="1103.00" x2="1462.45" y2="1103.00" stroke="#000" stroke-width="3.3" />
<circle cx="1454.05" cy="1082.20" r="5.8" fill="#2a6db3"/>
<circle cx="1454.05" cy="1089.70" r="5.8" fill="#2a6db3"/>
<circle cx="1454.05" cy="1102.80" r="5.8" fill="#2a6db3"/>
<line x1="1567.30" y1="1097.50" x2="1567.30" y2="1119.50" stroke="#000" stroke-width="3" />
<line x1="1558.90" y1="1097.50" x2="1575.70" y2="1097.50" stroke="#000" stroke-width="3.3" />
<line x1="1558.90" y1="1119.50" x2="1575.70" y2="1119.50" stroke="#000" stroke-width="3.3" />
<circle cx="1567.30" cy="1096.70" r="5.8" fill="#2a6db3"/>
<circle cx="1567.30" cy="1112.00" r="5.8" fill="#2a6db3"/>
<circle cx="1567.30" cy="1117.60" r="5.8" fill="#2a6db3"/>
<line x1="1680.55" y1="1087.80" x2="1680.55" y2="1110.00" stroke="#000" stroke-width="3" />
<line x1="1672.15" y1="1087.80" x2="1688.95" y2="1087.80" stroke="#000" stroke-width="3.3" />
<line x1="1672.15" y1="1110.00" x2="1688.95" y2="1110.00" stroke="#000" stroke-width="3.3" />
<circle cx="1680.55" cy="1089.50" r="5.8" fill="#2a6db3"/>
<circle cx="1680.55" cy="1096.00" r="5.8" fill="#2a6db3"/>
<circle cx="1680.55" cy="1110.00" r="5.8" fill="#2a6db3"/>
<line x1="1793.80" y1="1091.50" x2="1793.80" y2="1116.00" stroke="#000" stroke-width="3" />
<line x1="1785.40" y1="1091.50" x2="1802.20" y2="1091.50" stroke="#000" stroke-width="3.3" />
<line x1="1785.40" y1="1116.00" x2="1802.20" y2="1116.00" stroke="#000" stroke-width="3.3" />
<circle cx="1793.80" cy="1096.50" r="5.8" fill="#2a6db3"/>
<circle cx="1793.80" cy="1117.50" r="5.8" fill="#2a6db3"/>
<circle cx="1793.80" cy="1117.50" r="5.8" fill="#2a6db3"/>
<polyline points="208.30,825.40 321.55,847.20 434.80,853.00 548.05,867.50 661.30,888.70 774.55,909.60 887.80,900.70 1001.05,915.50 1114.30,922.70 1227.55,926.30 1340.80,922.10 1454.05,929.70 1567.30,956.20 1680.55,942.50 1793.80,950.00" fill="none" stroke="#ef8781" stroke-width="3"/>
<rect x="202.10" y="819.20" width="12.40" height="12.40" fill="#ef8781" />
<rect x="315.35" y="841.00" width="12.40" height="12.40" fill="#ef8781" />
<rect x="428.60" y="846.80" width="12.40" height="12.40" fill="#ef8781" />
<rect x="541.85" y="861.30" width="12.40" height="12.40" fill="#ef8781" />
<rect x="655.10" y="882.50" width="12.40" height="12.40" fill="#ef8781" />
<rect x="768.35" y="903.40" width="12.40" height="12.40" fill="#ef8781" />
<rect x="881.60" y="894.50" width="12.40" height="12.40" fill="#ef8781" />
<rect x="994.85" y="909.30" width="12.40" height="12.40" fill="#ef8781" />
<rect x="1108.10" y="916.50" width="12.40" height="12.40" fill="#ef8781" />
<rect x="1221.35" y="920.10" width="12.40" height="12.40" fill="#ef8781" />
<rect x="1334.60" y="915.90" width="12.40" height="12.40" fill="#ef8781" />
<rect x="1447.85" y="923.50" width="12.40" height="12.40" fill="#ef8781" />
<rect x="1561.10" y="950.00" width="12.40" height="12.40" fill="#ef8781" />
<rect x="1674.35" y="936.30" width="12.40" height="12.40" fill="#ef8781" />
<rect x="1787.60" y="943.80" width="12.40" height="12.40" fill="#ef8781" />
<line x1="151.70" y1="797.40" x2="1850.70" y2="797.40" stroke="#000" stroke-width="4" />
<line x1="149.70" y1="1402.20" x2="1852.70" y2="1402.20" stroke="#000" stroke-width="4" />
<line x1="151.70" y1="795.40" x2="151.70" y2="1404.20" stroke="#2b6cb1" stroke-width="4" />
<line x1="1850.70" y1="795.40" x2="1850.70" y2="1404.20" stroke="#ef8781" stroke-width="4" />
<line x1="141.20" y1="1402.20" x2="151.70" y2="1402.20" stroke="#2b6cb1" stroke-width="4" />
<text x="134.6" y="1414.6" font-size="40" fill="#2b6cb1" text-anchor="end" >0</text>
<line x1="141.20" y1="1260.15" x2="151.70" y2="1260.15" stroke="#2b6cb1" stroke-width="4" />
<text x="134.6" y="1272.6" font-size="40" fill="#2b6cb1" text-anchor="end" >20</text>
<line x1="141.20" y1="1118.10" x2="151.70" y2="1118.10" stroke="#2b6cb1" stroke-width="4" />
<text x="134.6" y="1130.5" font-size="40" fill="#2b6cb1" text-anchor="end" >40</text>
<line x1="141.20" y1="976.05" x2="151.70" y2="976.05" stroke="#2b6cb1" stroke-width="4" />
<text x="134.6" y="988.4" font-size="40" fill="#2b6cb1" text-anchor="end" >60</text>
<line x1="141.20" y1="834.00" x2="151.70" y2="834.00" stroke="#2b6cb1" stroke-width="4" />
<text x="134.6" y="846.4" font-size="40" fill="#2b6cb1" text-anchor="end" >80</text>
<line x1="146.00" y1="1331.17" x2="151.70" y2="1331.17" stroke="#2b6cb1" stroke-width="3.5" />
<line x1="146.00" y1="1189.12" x2="151.70" y2="1189.12" stroke="#2b6cb1" stroke-width="3.5" />
<line x1="146.00" y1="1047.07" x2="151.70" y2="1047.07" stroke="#2b6cb1" stroke-width="3.5" />
<line x1="146.00" y1="905.02" x2="151.70" y2="905.02" stroke="#2b6cb1" stroke-width="3.5" />
<line x1="1850.70" y1="1402.20" x2="1858.00" y2="1402.20" stroke="#ef8781" stroke-width="4.5" />
<text x="1867.0" y="1413.5" font-size="37.5" fill="#ef8781" text-anchor="start" >0</text>
<line x1="1850.70" y1="1301.40" x2="1858.00" y2="1301.40" stroke="#ef8781" stroke-width="4.5" />
<text x="1867.0" y="1312.7" font-size="37.5" fill="#ef8781" text-anchor="start" >20</text>
<line x1="1850.70" y1="1200.60" x2="1858.00" y2="1200.60" stroke="#ef8781" stroke-width="4.5" />
<text x="1867.0" y="1211.9" font-size="37.5" fill="#ef8781" text-anchor="start" >40</text>
<line x1="1850.70" y1="1099.80" x2="1858.00" y2="1099.80" stroke="#ef8781" stroke-width="4.5" />
<text x="1867.0" y="1111.1" font-size="37.5" fill="#ef8781" text-anchor="start" >60</text>
<line x1="1850.70" y1="999.00" x2="1858.00" y2="999.00" stroke="#ef8781" stroke-width="4.5" />
<text x="1867.0" y="1010.3" font-size="37.5" fill="#ef8781" text-anchor="start" >80</text>
<line x1="1850.70" y1="898.20" x2="1858.00" y2="898.20" stroke="#ef8781" stroke-width="4.5" />
<text x="1867.0" y="909.5" font-size="37.5" fill="#ef8781" text-anchor="start" >100</text>
<line x1="1850.70" y1="797.40" x2="1858.00" y2="797.40" stroke="#ef8781" stroke-width="4.5" />
<text x="1867.0" y="808.7" font-size="37.5" fill="#ef8781" text-anchor="start" >120</text>
<line x1="208.30" y1="1402.20" x2="208.30" y2="1414.00" stroke="#000" stroke-width="4" />
<text x="208.5" y="1451.3" font-size="39.5" fill="#000" text-anchor="middle" >200</text>
<line x1="321.55" y1="1402.20" x2="321.55" y2="1414.00" stroke="#000" stroke-width="4" />
<text x="321.8" y="1451.3" font-size="39.5" fill="#000" text-anchor="middle" >400</text>
<line x1="434.80" y1="1402.20" x2="434.80" y2="1414.00" stroke="#000" stroke-width="4" />
<text x="435.0" y="1451.3" font-size="39.5" fill="#000" text-anchor="middle" >600</text>
<line x1="548.05" y1="1402.20" x2="548.05" y2="1414.00" stroke="#000" stroke-width="4" />
<text x="548.2" y="1451.3" font-size="39.5" fill="#000" text-anchor="middle" >800</text>
<line x1="661.30" y1="1402.20" x2="661.30" y2="1414.00" stroke="#000" stroke-width="4" />
<text x="661.5" y="1451.3" font-size="39.5" fill="#000" text-anchor="middle" >1000</text>
<line x1="774.55" y1="1402.20" x2="774.55" y2="1414.00" stroke="#000" stroke-width="4" />
<text x="774.8" y="1451.3" font-size="39.5" fill="#000" text-anchor="middle" >1200</text>
<line x1="887.80" y1="1402.20" x2="887.80" y2="1414.00" stroke="#000" stroke-width="4" />
<text x="888.0" y="1451.3" font-size="39.5" fill="#000" text-anchor="middle" >1400</text>
<line x1="1001.05" y1="1402.20" x2="1001.05" y2="1414.00" stroke="#000" stroke-width="4" />
<text x="1001.2" y="1451.3" font-size="39.5" fill="#000" text-anchor="middle" >1600</text>
<line x1="1114.30" y1="1402.20" x2="1114.30" y2="1414.00" stroke="#000" stroke-width="4" />
<text x="1114.5" y="1451.3" font-size="39.5" fill="#000" text-anchor="middle" >1800</text>
<line x1="1227.55" y1="1402.20" x2="1227.55" y2="1414.00" stroke="#000" stroke-width="4" />
<text x="1227.8" y="1451.3" font-size="39.5" fill="#000" text-anchor="middle" >2000</text>
<line x1="1340.80" y1="1402.20" x2="1340.80" y2="1414.00" stroke="#000" stroke-width="4" />
<text x="1341.0" y="1451.3" font-size="39.5" fill="#000" text-anchor="middle" >2200</text>
<line x1="1454.05" y1="1402.20" x2="1454.05" y2="1414.00" stroke="#000" stroke-width="4" />
<text x="1454.2" y="1451.3" font-size="39.5" fill="#000" text-anchor="middle" >2400</text>
<line x1="1567.30" y1="1402.20" x2="1567.30" y2="1414.00" stroke="#000" stroke-width="4" />
<text x="1567.5" y="1451.3" font-size="39.5" fill="#000" text-anchor="middle" >2600</text>
<line x1="1680.55" y1="1402.20" x2="1680.55" y2="1414.00" stroke="#000" stroke-width="4" />
<text x="1680.8" y="1451.3" font-size="39.5" fill="#000" text-anchor="middle" >2800</text>
<line x1="1793.80" y1="1402.20" x2="1793.80" y2="1414.00" stroke="#000" stroke-width="4" />
<text x="1794.0" y="1451.3" font-size="39.5" fill="#000" text-anchor="middle" >3000</text>
<line x1="151.70" y1="1402.20" x2="151.70" y2="1409.00" stroke="#000" stroke-width="4" />
<line x1="264.90" y1="1402.20" x2="264.90" y2="1409.00" stroke="#000" stroke-width="4" />
<line x1="378.15" y1="1402.20" x2="378.15" y2="1409.00" stroke="#000" stroke-width="4" />
<line x1="491.40" y1="1402.20" x2="491.40" y2="1409.00" stroke="#000" stroke-width="4" />
<line x1="604.65" y1="1402.20" x2="604.65" y2="1409.00" stroke="#000" stroke-width="4" />
<line x1="717.90" y1="1402.20" x2="717.90" y2="1409.00" stroke="#000" stroke-width="4" />
<line x1="831.15" y1="1402.20" x2="831.15" y2="1409.00" stroke="#000" stroke-width="4" />
<line x1="944.40" y1="1402.20" x2="944.40" y2="1409.00" stroke="#000" stroke-width="4" />
<line x1="1057.65" y1="1402.20" x2="1057.65" y2="1409.00" stroke="#000" stroke-width="4" />
<line x1="1170.90" y1="1402.20" x2="1170.90" y2="1409.00" stroke="#000" stroke-width="4" />
<line x1="1284.15" y1="1402.20" x2="1284.15" y2="1409.00" stroke="#000" stroke-width="4" />
<line x1="1397.40" y1="1402.20" x2="1397.40" y2="1409.00" stroke="#000" stroke-width="4" />
<line x1="1510.65" y1="1402.20" x2="1510.65" y2="1409.00" stroke="#000" stroke-width="4" />
<line x1="1623.90" y1="1402.20" x2="1623.90" y2="1409.00" stroke="#000" stroke-width="4" />
<line x1="1737.15" y1="1402.20" x2="1737.15" y2="1409.00" stroke="#000" stroke-width="4" />
<line x1="1850.40" y1="1402.20" x2="1850.40" y2="1409.00" stroke="#000" stroke-width="4" />
<text x="1001.4" y="1502.1" font-size="40" fill="#000" text-anchor="middle" >Cycles (n)</text>
<text transform="translate(61.2,1099.1) rotate(-90)" font-size="39.3" fill="#2b6cb1" text-anchor="middle">Transmittance modulation (%)</text>
<text transform="translate(1964.5,1114.8) rotate(-90)" font-size="39.3" fill="#ef8781" text-anchor="middle">Average ΔT retention (%)</text></svg>
</body></html>
